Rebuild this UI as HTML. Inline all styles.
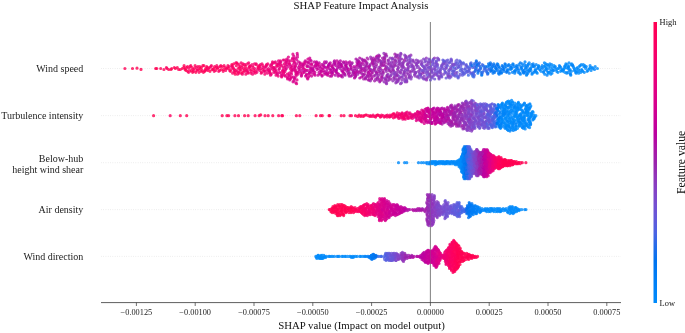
<!DOCTYPE html>
<html><head><meta charset="utf-8"><title>SHAP Feature Impact Analysis</title>
<style>
html,body{margin:0;padding:0;background:#fff;}
body{width:685px;height:333px;overflow:hidden;font-family:"Liberation Serif",serif;}
svg{display:block;font-family:"Liberation Serif",serif;will-change:transform;}
</style></head><body>
<svg width="685" height="333" viewBox="0 0 685 333">
<defs><filter id="bl" x="-5%" y="-5%" width="110%" height="110%"><feGaussianBlur stdDeviation="0.35"/></filter><linearGradient id="cb" x1="0" y1="0" x2="0" y2="1"><stop offset="0%" stop-color="#ff0051"/><stop offset="5%" stop-color="#fe005c"/><stop offset="10%" stop-color="#f90067"/><stop offset="15%" stop-color="#f20072"/><stop offset="20%" stop-color="#e9007c"/><stop offset="25%" stop-color="#e00086"/><stop offset="30%" stop-color="#d5008f"/><stop offset="35%" stop-color="#c80098"/><stop offset="40%" stop-color="#bb00a0"/><stop offset="45%" stop-color="#ab15a7"/><stop offset="50%" stop-color="#9b23ad"/><stop offset="55%" stop-color="#9135ba"/><stop offset="60%" stop-color="#8443c6"/><stop offset="65%" stop-color="#754fd1"/><stop offset="70%" stop-color="#6359da"/><stop offset="75%" stop-color="#4b63e3"/><stop offset="80%" stop-color="#236cea"/><stop offset="85%" stop-color="#0074f0"/><stop offset="90%" stop-color="#007cf5"/><stop offset="95%" stop-color="#0084f9"/><stop offset="100%" stop-color="#008bfb"/></linearGradient></defs>
<rect width="685" height="333" fill="#fff"/>
<text x="361" y="8.7" text-anchor="middle" font-size="10.8" fill="#111">SHAP Feature Impact Analysis</text>
<line x1="101" y1="68.5" x2="621" y2="68.5" stroke="#ccc" stroke-width="0.5" stroke-dasharray="0.7,1.6"/><line x1="101" y1="115.6" x2="621" y2="115.6" stroke="#ccc" stroke-width="0.5" stroke-dasharray="0.7,1.6"/><line x1="101" y1="162.7" x2="621" y2="162.7" stroke="#ccc" stroke-width="0.5" stroke-dasharray="0.7,1.6"/><line x1="101" y1="209.6" x2="621" y2="209.6" stroke="#ccc" stroke-width="0.5" stroke-dasharray="0.7,1.6"/><line x1="101" y1="256.4" x2="621" y2="256.4" stroke="#ccc" stroke-width="0.5" stroke-dasharray="0.7,1.6"/>
<line x1="430.4" y1="22" x2="430.4" y2="302.6" stroke="#777" stroke-width="0.85"/>
<g id="dots" filter="url(#bl)"><g fill="none" stroke-linecap="round" stroke-opacity="0.8" stroke-width="3.20"><path d="M329.1 68.5h0M371.6 79.0h0M361.0 67.5h0M333.3 64.7h0M358.0 62.8h0M438.2 113.6h0M437.3 111.5h0M439.8 110.1h0M443.3 121.3h0M435.6 123.4h0M444.9 122.0h0M440.2 115.0h0M446.4 110.1h0M440.9 119.9h0M444.1 111.5h0M445.1 119.2h0M482.5 171.7h0M483.6 161.7h0M482.2 162.7h0M482.9 165.7h0M482.3 158.7h0M482.7 151.7h0M482.1 174.7h0M483.1 163.7h0M404.3 209.6h0" stroke="#b606a2"/><path d="M365.8 61.9h0M367.9 59.0h0M367.2 58.0h0M373.5 63.8h0M378.2 69.5h0M381.7 62.8h0M352.8 73.2h0M347.1 67.5h0M342.4 77.0h0M352.4 75.2h0M454.6 112.9h0M456.8 111.5h0M452.0 123.4h0M442.6 117.1h0M442.1 124.1h0M481.4 159.7h0M482.0 161.7h0M481.1 155.7h0M481.5 173.7h0M419.6 208.6h0M421.9 209.6h0M419.3 210.6h0M411.3 256.4h0" stroke="#a918a8"/><path d="M270.2 73.2h0M273.1 62.8h0M254.7 68.5h0M283.6 70.4h0M264.3 70.4h0M280.5 64.7h0M276.5 66.6h0M256.9 72.3h0M403.7 116.4h0M407.6 117.8h0M402.8 119.2h0M493.2 158.7h0M444.9 255.4h0M442.7 257.4h0M447.9 257.4h0" stroke="#ef0075"/><path d="M274.6 70.4h0M286.5 60.9h0M272.1 63.8h0M268.2 70.4h0M277.9 65.7h0M402.3 113.6h0M405.0 113.6h0M410.2 115.0h0M409.4 115.7h0M492.3 163.7h0M492.7 164.7h0M492.5 162.7h0M491.9 166.7h0M374.8 210.6h0M373.7 214.6h0M374.8 212.6h0" stroke="#eb0079"/><path d="M262.0 63.8h0M246.8 70.4h0M229.7 70.4h0M240.1 70.4h0M231.0 69.5h0M401.1 115.7h0M394.8 116.4h0M384.8 116.4h0M496.5 163.7h0M363.6 206.6h0M364.5 204.6h0M364.3 207.6h0M364.0 211.6h0M367.8 205.6h0M363.1 209.6h0M450.0 258.4h0M451.1 258.4h0M448.0 256.4h0" stroke="#f80068"/><path d="M384.9 59.0h0M334.8 62.8h0M350.5 65.7h0M374.5 60.0h0M364.5 74.2h0M370.9 70.4h0M372.8 63.8h0M359.7 58.0h0M352.2 62.8h0M364.3 60.0h0M350.9 76.1h0M369.2 79.9h0M368.8 77.0h0M330.6 69.5h0M440.3 110.8h0M445.4 117.8h0M446.0 112.9h0M452.8 117.8h0M448.6 110.1h0M449.9 112.9h0M447.1 119.2h0M448.7 118.5h0M443.5 113.6h0M442.9 116.4h0M447.8 108.7h0M482.8 155.7h0M483.0 172.7h0M408.4 209.6h0M407.6 210.6h0M414.0 256.4h0" stroke="#af11a5"/><path d="M163.9 69.5h0M186.6 67.5h0M168.7 69.5h0M185.5 68.5h0M184.1 65.7h0M191.4 70.4h0M124.9 68.5h0M299.8 115.7h0M350.0 115.7h0M265.0 115.7h0M259.2 115.7h0M508.3 163.7h0M510.0 165.7h0M500.9 166.7h0M501.2 159.7h0M502.2 162.7h0M332.9 206.6h0M335.6 211.6h0M352.1 208.6h0M343.2 205.6h0M351.9 209.6h0M343.7 215.6h0M469.0 254.4h0M456.0 247.4h0M467.3 256.4h0M456.1 261.4h0M455.7 250.4h0M460.7 259.4h0M456.3 243.4h0M459.4 252.4h0M458.6 253.4h0M456.7 256.4h0M458.1 251.4h0M456.1 259.4h0M459.1 258.4h0M454.5 256.4h0" stroke="#ff0056"/><path d="M568.6 67.5h0M527.0 74.2h0M536.6 72.3h0M544.4 62.8h0M525.5 68.5h0M585.7 68.5h0M592.9 68.5h0M543.8 71.3h0M584.3 72.3h0M585.4 67.5h0M555.3 66.6h0M520.1 109.4h0M504.3 122.7h0M508.6 126.2h0M529.7 122.0h0M522.6 120.6h0M515.4 129.7h0M507.5 129.7h0M522.2 124.1h0M524.0 117.1h0M504.7 114.3h0M500.6 127.6h0M530.0 117.1h0M527.5 105.2h0M509.1 113.6h0M531.9 114.3h0M459.3 162.7h0M456.6 163.7h0M437.1 162.7h0M451.2 161.7h0M454.4 161.7h0M444.5 162.7h0M460.5 162.7h0M430.4 162.7h0M461.8 159.7h0M499.7 211.6h0M498.3 208.6h0M479.6 207.6h0M325.6 257.4h0M315.8 256.4h0M319.8 257.4h0M320.3 256.4h0" stroke="#0088fa"/><path d="M424.5 67.5h0M393.2 66.6h0M406.3 60.9h0M412.3 65.7h0M421.7 64.7h0M416.6 63.8h0M407.5 70.4h0M431.4 77.0h0M471.7 103.1h0M471.5 105.9h0M472.9 126.9h0M472.0 115.0h0M468.2 120.6h0M470.7 129.0h0M462.2 119.2h0M469.6 106.6h0M470.0 102.4h0M475.3 152.7h0M475.9 158.7h0M475.2 168.7h0M476.2 156.7h0M475.5 155.7h0M475.2 171.7h0M476.6 149.7h0M434.6 205.6h0M434.5 213.6h0M433.8 203.6h0M432.0 223.6h0M433.6 199.6h0M433.2 214.6h0M435.8 211.6h0M435.3 205.6h0M438.0 203.6h0M438.1 210.6h0" stroke="#883ec2"/><path d="M269.7 71.3h0M259.7 70.4h0M261.2 73.2h0M266.5 64.7h0M404.3 118.5h0M494.3 168.7h0M493.4 155.7h0M493.7 167.7h0M365.7 210.6h0M370.4 206.6h0M369.0 206.6h0M371.3 208.6h0M369.4 208.6h0M447.3 261.4h0M446.2 263.4h0M445.9 260.4h0M445.1 256.4h0M448.5 249.4h0" stroke="#f20071"/><path d="M310.6 71.3h0M320.4 74.2h0M306.6 74.2h0M343.1 72.3h0M303.3 65.7h0M424.4 112.9h0M425.0 117.1h0M427.9 108.0h0M488.1 153.7h0M487.4 160.7h0M485.8 167.7h0M487.7 151.7h0M487.6 157.7h0M487.1 171.7h0M487.3 174.7h0M385.6 211.6h0M387.6 204.6h0M385.4 201.6h0M386.4 209.6h0M386.4 205.6h0M389.5 211.6h0M388.2 208.6h0M387.8 206.6h0M385.4 208.6h0M386.0 204.6h0M387.2 216.6h0M434.4 255.4h0M435.0 254.4h0M434.1 248.4h0M435.5 265.4h0M434.8 247.4h0M433.2 251.4h0" stroke="#d20091"/><path d="M576.2 73.2h0M524.4 64.7h0M505.4 64.7h0M549.2 72.3h0M525.8 67.5h0M542.2 65.7h0M532.3 73.2h0M523.5 65.7h0M522.8 71.3h0M518.2 72.3h0M521.1 115.0h0M499.2 120.6h0M502.2 103.8h0M503.7 115.0h0M500.1 125.5h0M530.4 124.8h0M529.4 119.2h0M499.1 106.6h0M462.9 162.7h0M463.0 149.7h0M463.2 168.7h0M477.5 206.6h0M476.6 213.6h0M367.3 256.4h0" stroke="#0082f8"/><path d="M344.3 69.5h0M350.0 64.7h0M353.9 66.6h0M334.5 60.9h0M340.9 66.6h0M436.3 112.9h0M437.7 121.3h0M438.3 122.0h0M435.0 119.9h0M438.7 108.7h0M441.4 121.3h0M439.2 109.4h0M483.7 175.7h0M482.7 156.7h0M483.9 168.7h0M484.0 169.7h0M405.8 208.6h0M403.4 211.6h0M423.2 255.4h0M422.0 259.4h0M422.6 256.4h0M425.7 253.4h0M421.6 256.4h0M424.2 254.4h0" stroke="#bc009f"/><path d="M492.7 66.6h0M497.3 63.8h0M496.0 68.5h0M520.3 62.8h0M498.6 122.0h0M497.6 110.1h0M498.1 104.5h0M463.7 164.7h0M463.9 173.7h0M470.6 204.6h0M469.1 213.6h0M468.3 207.6h0M469.4 203.6h0M469.8 210.6h0M373.0 254.4h0M374.2 258.4h0" stroke="#0078f3"/><path d="M507.9 70.4h0M498.0 64.7h0M501.3 73.2h0M530.5 68.5h0M556.1 69.5h0M501.5 116.4h0M526.2 112.2h0M462.9 155.7h0M462.8 153.7h0M476.2 212.6h0M475.7 213.6h0M472.9 205.6h0M473.3 214.6h0M471.3 211.6h0" stroke="#007ff6"/><path d="M435.6 66.6h0M429.3 74.2h0M428.6 62.8h0M442.2 66.6h0M440.9 75.2h0M430.5 66.6h0M439.6 72.3h0M428.7 63.8h0M452.3 63.8h0M440.2 69.5h0M416.0 72.3h0M427.7 71.3h0M478.3 104.5h0M475.7 120.6h0M483.2 127.6h0M476.5 113.6h0M470.1 119.9h0M477.1 112.2h0M470.5 109.4h0M477.7 108.7h0M473.9 167.7h0M474.2 155.7h0M473.3 154.7h0M473.7 157.7h0M475.1 164.7h0M441.3 209.6h0M441.6 210.6h0M438.4 213.6h0M439.3 205.6h0M395.8 255.4h0" stroke="#7d49cb"/><path d="M244.7 71.3h0M241.1 62.8h0M216.1 67.5h0M234.0 71.3h0M387.4 115.0h0M494.4 156.7h0M366.2 211.6h0M446.5 262.4h0M447.8 255.4h0M449.6 263.4h0M448.6 264.4h0M448.3 248.4h0M447.5 249.4h0" stroke="#f5006c"/><path d="M397.1 75.2h0M381.0 61.9h0M394.4 77.0h0M396.6 56.1h0M408.1 67.5h0M406.2 57.1h0M409.2 56.1h0M393.1 59.0h0M375.5 71.3h0M391.9 66.6h0M370.6 57.1h0M402.4 65.7h0M381.4 64.7h0M455.5 112.2h0M450.5 105.9h0M456.0 114.3h0M460.0 110.8h0M460.1 116.4h0M459.8 112.9h0M457.6 105.2h0M458.1 115.7h0M461.0 119.9h0M460.5 121.3h0M478.0 175.7h0M478.3 151.7h0M477.3 172.7h0M478.1 154.7h0M478.5 165.7h0M428.3 211.6h0M427.3 194.6h0M428.6 200.6h0M430.0 215.6h0M404.3 258.4h0M407.0 258.4h0M405.4 257.4h0M404.8 253.4h0" stroke="#972bb2"/><path d="M174.3 67.5h0M190.0 66.6h0M238.1 68.5h0M160.7 68.5h0M178.6 69.5h0M329.6 115.7h0M282.6 115.7h0M228.6 115.7h0M320.5 115.7h0M501.7 164.7h0M499.7 164.7h0M500.7 167.7h0M356.5 209.6h0M454.5 270.4h0M452.8 266.4h0M454.4 257.4h0M456.2 269.4h0M455.4 245.4h0M454.2 244.4h0M453.7 271.4h0M453.4 249.4h0M453.4 256.4h0M454.6 260.4h0" stroke="#ff005a"/><path d="M571.4 71.3h0M595.2 66.6h0M592.3 67.5h0M565.2 65.7h0M580.8 72.3h0M544.7 74.2h0M576.8 68.5h0M575.6 72.3h0M580.1 65.7h0M587.1 71.3h0M582.1 70.4h0M546.1 67.5h0M567.5 72.3h0M569.8 73.2h0M557.6 68.5h0M509.6 119.2h0M503.6 110.1h0M509.9 105.9h0M508.4 125.5h0M509.4 104.5h0M504.7 108.7h0M506.0 106.6h0M505.5 112.9h0M526.9 124.8h0M516.4 108.7h0M524.5 103.8h0M509.7 119.9h0M522.3 110.1h0M528.6 123.4h0M534.2 118.5h0M516.4 122.7h0M508.5 101.0h0M511.4 116.4h0M510.5 117.8h0M506.6 117.8h0M514.0 117.1h0M518.3 115.7h0M528.3 114.3h0M524.7 122.7h0M528.2 126.9h0M511.6 100.3h0M523.5 104.5h0M511.5 129.7h0M511.0 115.7h0M512.3 101.7h0M514.5 103.8h0M504.3 119.2h0M517.7 110.1h0M510.3 111.5h0M529.1 113.6h0M513.4 119.2h0M507.8 122.0h0M529.2 108.0h0M516.5 119.9h0M503.9 109.4h0M514.8 103.1h0M505.3 123.4h0M517.3 110.8h0M520.9 113.6h0M521.7 117.8h0M525.4 105.2h0M513.1 110.8h0M508.2 124.1h0M512.8 126.9h0M533.1 112.2h0M459.5 159.7h0M442.4 163.7h0M427.1 163.7h0M421.4 162.7h0M446.6 162.7h0M430.0 163.7h0M460.8 165.7h0M437.5 163.7h0M434.1 162.7h0M428.7 162.7h0M460.7 167.7h0M441.3 161.7h0M441.1 161.7h0M427.7 162.7h0M428.4 163.7h0M511.1 208.6h0M493.3 210.6h0M503.2 208.6h0M508.2 210.6h0M506.9 209.6h0M510.4 209.6h0M512.0 212.6h0M516.6 211.6h0M515.6 208.6h0M506.1 208.6h0M509.9 213.6h0M516.3 209.6h0M508.6 211.6h0M319.0 257.4h0M355.6 256.4h0M328.9 256.4h0M332.7 256.4h0M322.9 258.4h0M320.6 258.4h0M317.9 255.4h0" stroke="#008bfb"/><path d="M300.8 73.2h0M295.3 66.6h0M294.2 61.9h0M292.2 70.4h0M421.8 110.1h0M420.5 120.6h0M418.3 113.6h0M487.9 156.7h0M489.1 167.7h0M489.0 168.7h0M488.6 164.7h0M380.8 210.6h0M435.6 248.4h0M436.6 266.4h0" stroke="#db008a"/><path d="M282.7 70.4h0M285.0 71.3h0M271.5 64.7h0M291.7 77.0h0M408.9 113.6h0M491.0 165.7h0M491.0 154.7h0M377.5 206.6h0M440.5 258.4h0" stroke="#e8007e"/><path d="M451.1 59.0h0M447.9 75.2h0M447.0 64.7h0M447.1 62.8h0M430.4 79.9h0M437.2 75.2h0M459.2 76.1h0M487.5 118.5h0M473.3 101.0h0M490.1 110.1h0M483.6 117.1h0M487.2 115.0h0M486.4 126.9h0M488.5 119.2h0M476.3 112.9h0M476.1 103.8h0M479.4 118.5h0M491.0 108.0h0M485.7 109.4h0M481.0 105.2h0M489.4 105.9h0M479.7 121.3h0M479.9 127.6h0M472.3 165.7h0M472.6 167.7h0M443.9 207.6h0M446.3 212.6h0M448.1 202.6h0M447.6 210.6h0M451.9 212.6h0M448.5 212.6h0M449.5 209.6h0M446.8 203.6h0M446.5 214.6h0M449.1 211.6h0M393.9 258.4h0M391.9 256.4h0" stroke="#6f52d4"/><path d="M412.6 67.5h0M440.7 73.2h0M408.9 78.0h0M401.6 82.8h0M402.2 77.0h0M410.3 59.0h0M424.1 72.3h0M417.7 62.8h0M420.0 70.4h0M420.2 69.5h0M430.0 76.1h0M428.4 61.9h0M468.5 126.9h0M472.4 110.1h0M472.3 110.8h0M470.9 120.6h0M473.9 122.0h0M478.8 107.3h0M474.6 159.7h0M474.0 163.7h0M474.9 172.7h0M475.3 158.7h0M436.5 214.6h0M437.7 209.6h0M434.2 207.6h0M440.1 208.6h0M439.9 212.6h0M397.8 255.4h0" stroke="#8344c7"/><path d="M471.1 62.8h0M466.9 71.3h0M454.5 67.5h0M461.3 68.5h0M473.0 73.2h0M464.5 73.2h0M467.8 165.7h0M469.1 149.7h0M468.4 178.7h0M463.5 209.6h0M462.1 210.6h0M461.9 212.6h0M458.7 215.6h0" stroke="#4b63e3"/><path d="M461.0 62.8h0M442.9 60.0h0M469.5 68.5h0M485.5 124.1h0M490.2 110.8h0M487.4 126.2h0M480.7 112.2h0M493.6 119.2h0M487.9 113.6h0M485.9 121.3h0M470.6 160.7h0M470.2 166.7h0M470.1 160.7h0M470.5 169.7h0M469.9 168.7h0M470.1 152.7h0M470.9 161.7h0M471.0 149.7h0M469.9 174.7h0M452.9 211.6h0M456.0 213.6h0M454.2 214.6h0M451.7 213.6h0M452.8 209.6h0M458.3 214.6h0M460.1 208.6h0M389.4 254.4h0M390.3 256.4h0M389.9 257.4h0M388.8 255.4h0M388.1 256.4h0" stroke="#5f5bdc"/><path d="M485.5 66.6h0M477.9 73.2h0M480.9 67.5h0M480.1 66.6h0M497.2 119.9h0M496.7 123.4h0M465.4 174.7h0M464.8 160.7h0M465.2 175.7h0M465.0 162.7h0M468.1 211.6h0M467.6 208.6h0M374.7 255.4h0" stroke="#0072ee"/><path d="M289.6 76.1h0M288.7 62.8h0M279.5 72.3h0M288.7 61.9h0M285.7 69.5h0M296.0 74.2h0M286.7 59.0h0M292.0 69.5h0M419.1 112.9h0M491.4 156.7h0M377.7 205.6h0M375.2 204.6h0M379.3 215.6h0M438.9 251.4h0" stroke="#e40082"/><path d="M509.3 73.2h0M516.4 65.7h0M510.4 67.5h0M509.9 68.5h0M499.5 67.5h0M524.8 72.3h0M498.3 105.2h0M463.5 166.7h0M464.5 172.7h0M463.3 148.7h0M473.1 210.6h0M469.5 204.6h0M474.0 206.6h0M470.0 216.6h0M369.1 257.4h0M370.1 257.4h0" stroke="#007cf5"/><path d="M332.5 67.5h0M431.6 110.1h0M431.1 123.4h0M436.8 122.7h0M431.4 114.3h0M429.8 110.1h0M435.5 112.2h0M484.5 172.7h0M484.9 149.7h0M401.8 212.6h0M398.2 206.6h0M422.8 258.4h0M425.6 258.4h0M426.5 252.4h0M424.8 261.4h0" stroke="#c2009c"/><path d="M288.4 57.1h0M296.3 73.2h0M286.9 64.7h0M296.2 75.2h0M296.1 76.1h0M422.9 117.8h0M419.7 117.1h0M490.6 157.7h0M489.3 169.7h0M489.6 165.7h0M379.1 204.6h0M380.3 212.6h0M377.2 210.6h0M378.8 212.6h0M379.5 218.6h0M437.4 251.4h0M438.5 262.4h0M437.9 252.4h0M438.4 258.4h0M439.5 252.4h0M436.7 260.4h0" stroke="#e00086"/><path d="M439.4 77.0h0M448.9 74.2h0M455.2 76.1h0M458.2 78.0h0M467.4 67.5h0M489.5 112.9h0M485.3 106.6h0M476.1 108.7h0M485.6 122.7h0M491.5 109.4h0M488.7 112.2h0M491.8 125.5h0M471.9 151.7h0M471.6 175.7h0M470.6 165.7h0M471.4 152.7h0M471.0 166.7h0M471.5 174.7h0M471.3 172.7h0M469.7 161.7h0M445.3 200.6h0M454.3 213.6h0M453.0 207.6h0M453.3 208.6h0M389.7 253.4h0M389.2 254.4h0M392.3 258.4h0M390.9 255.4h0M393.1 254.4h0" stroke="#6857d8"/><path d="M528.2 64.7h0M545.5 69.5h0M567.8 68.5h0M535.7 70.4h0M541.3 67.5h0M506.5 110.8h0M502.6 114.3h0M516.0 111.5h0M501.6 118.5h0M515.5 126.2h0M510.8 105.2h0M519.8 115.7h0M499.7 117.1h0M520.2 104.5h0M512.0 105.2h0M518.7 122.0h0M461.9 158.7h0M462.6 161.7h0M462.2 167.7h0M480.2 209.6h0M478.1 208.6h0M478.3 208.6h0M365.6 256.4h0" stroke="#0085f9"/><path d="M486.2 69.5h0M478.9 70.4h0M474.9 65.7h0M481.9 74.2h0M487.6 74.2h0M493.1 112.2h0M467.4 157.7h0M468.3 160.7h0M467.5 149.7h0M467.3 175.7h0M466.7 169.7h0M467.0 161.7h0M467.0 176.7h0M467.1 174.7h0M467.5 147.7h0M468.1 153.7h0M466.8 162.7h0M461.7 206.6h0M381.0 256.4h0" stroke="#3e67e6"/><path d="M395.2 60.0h0M392.3 58.0h0M413.5 66.6h0M424.0 69.5h0M412.1 70.4h0M407.3 64.7h0M401.3 77.0h0M400.3 59.0h0M398.8 60.0h0M411.5 77.0h0M414.2 69.5h0M466.7 110.1h0M465.8 129.0h0M473.5 125.5h0M460.4 123.4h0M474.9 103.1h0M467.4 103.8h0M464.9 122.0h0M468.8 109.4h0M476.5 168.7h0M477.4 150.7h0M478.2 166.7h0M476.3 170.7h0M475.7 151.7h0M432.3 205.6h0M430.2 216.6h0M431.2 215.6h0M430.8 195.6h0M429.7 197.6h0M434.1 206.6h0M432.7 209.6h0M401.0 253.4h0M401.5 255.4h0M402.0 259.4h0" stroke="#8e38bd"/><path d="M225.0 67.5h0M227.0 67.5h0M190.8 65.7h0M232.3 65.7h0M243.6 68.5h0M199.8 66.6h0M227.9 65.7h0M387.0 117.1h0M170.2 115.7h0M499.8 165.7h0M498.3 165.7h0M500.0 161.7h0M500.2 165.7h0M499.2 167.7h0M357.0 211.6h0M451.5 261.4h0M452.5 249.4h0M453.9 267.4h0M453.5 245.4h0M453.2 244.4h0M453.7 240.4h0M456.4 254.4h0M452.7 250.4h0M454.9 254.4h0M451.8 251.4h0" stroke="#fd005f"/><path d="M225.7 70.4h0M242.1 65.7h0M211.4 65.7h0M238.9 73.2h0M245.0 69.5h0M235.9 62.8h0M250.8 73.2h0M240.0 66.6h0M220.8 65.7h0M202.1 70.4h0M243.9 70.4h0M396.0 115.0h0M496.4 162.7h0M496.7 160.7h0M496.6 164.7h0M497.7 159.7h0M362.1 211.6h0M358.6 211.6h0M361.5 212.6h0M359.4 207.6h0M450.8 257.4h0M453.0 264.4h0M451.4 268.4h0M451.6 267.4h0M450.3 250.4h0M449.0 263.4h0" stroke="#fb0064"/><path d="M299.6 71.3h0M308.1 62.8h0M321.4 71.3h0M309.8 58.0h0M311.6 76.1h0M315.7 64.7h0M423.5 115.7h0M432.9 112.2h0M425.6 117.8h0M427.2 110.1h0M430.9 118.5h0M487.0 160.7h0M486.4 163.7h0M487.2 170.7h0M486.4 166.7h0M485.5 158.7h0M395.7 207.6h0M394.4 206.6h0M390.6 210.6h0M390.4 205.6h0M390.0 203.6h0M393.7 207.6h0M389.4 213.6h0M391.7 209.6h0M389.1 211.6h0M391.5 207.6h0M394.2 204.6h0M393.7 213.6h0M386.8 200.6h0M391.9 205.6h0M399.3 209.6h0M434.7 264.4h0M431.5 259.4h0M429.5 251.4h0M433.0 258.4h0M430.0 257.4h0M432.7 252.4h0M433.3 258.4h0M431.8 253.4h0" stroke="#cd0095"/><path d="M311.0 67.5h0M318.2 68.5h0M319.7 66.6h0M330.0 76.1h0M319.0 72.3h0M313.2 69.5h0M327.7 75.2h0M333.8 69.5h0M320.1 70.4h0M319.5 73.2h0M432.0 122.7h0M430.2 115.0h0M429.4 112.9h0M486.5 170.7h0M485.1 152.7h0M486.1 173.7h0M485.9 158.7h0M485.8 150.7h0M486.3 154.7h0M484.8 162.7h0M486.0 157.7h0M484.9 169.7h0M392.2 212.6h0M396.5 206.6h0M400.8 212.6h0M401.5 209.6h0M397.8 205.6h0M395.2 212.6h0M428.1 263.4h0M428.8 255.4h0M430.9 259.4h0M428.0 252.4h0M427.4 253.4h0" stroke="#c70098"/><path d="M451.3 60.0h0M434.3 65.7h0M433.9 63.8h0M449.8 69.5h0M430.9 67.5h0M446.7 67.5h0M410.0 61.9h0M481.7 104.5h0M480.1 106.6h0M473.8 116.4h0M484.9 108.7h0M476.9 108.0h0M483.9 112.9h0M472.4 161.7h0M471.3 176.7h0M473.2 172.7h0M473.1 168.7h0M474.2 166.7h0M472.1 164.7h0M473.8 165.7h0M443.2 205.6h0M445.9 202.6h0M446.3 215.6h0M444.0 204.6h0M442.6 213.6h0M394.8 257.4h0M394.3 259.4h0M396.3 253.4h0" stroke="#764ed0"/><path d="M323.2 65.7h0M290.7 66.6h0M293.0 81.8h0M296.8 60.0h0M294.1 59.0h0M297.5 57.1h0M297.4 55.2h0M293.5 69.5h0M307.8 79.0h0M300.2 63.8h0M301.0 66.6h0M426.3 108.7h0M424.1 119.9h0M419.8 112.2h0M424.3 123.4h0M424.8 121.3h0M383.1 201.6h0M384.5 198.6h0M382.8 205.6h0M384.6 204.6h0M435.8 252.4h0M434.3 250.4h0M435.9 266.4h0M437.3 263.4h0M433.6 254.4h0M435.7 251.4h0" stroke="#d7008d"/><path d="M489.9 64.7h0M493.0 73.2h0M492.2 69.5h0M494.2 65.7h0M497.5 108.0h0M464.6 149.7h0M464.2 155.7h0M469.3 215.6h0M372.8 256.4h0" stroke="#0075f1"/><path d="M484.8 68.5h0M480.6 68.5h0M486.5 71.3h0M466.1 162.7h0M465.8 154.7h0M466.6 148.7h0M466.1 150.7h0M466.5 160.7h0M464.7 210.6h0M466.0 208.6h0M377.0 256.4h0" stroke="#2d6be9"/><path d="M356.7 69.5h0M383.3 60.0h0M358.7 67.5h0M380.1 66.6h0M353.6 72.3h0M345.1 75.2h0M386.4 66.6h0M361.4 73.2h0M388.4 60.0h0M384.8 60.9h0M377.9 61.9h0M369.0 67.5h0M386.1 82.8h0M385.8 79.9h0M364.8 67.5h0M367.5 75.2h0M372.3 72.3h0M382.0 79.9h0M461.7 108.7h0M459.2 113.6h0M458.9 104.5h0M457.2 106.6h0M454.1 110.1h0M481.3 169.7h0M480.7 158.7h0M426.1 208.6h0M410.6 257.4h0" stroke="#a21eaa"/><path d="M380.9 63.8h0M397.5 69.5h0M367.0 62.8h0M369.8 65.7h0M366.4 65.7h0M378.9 71.3h0M398.2 55.2h0M379.7 81.8h0M453.4 118.5h0M458.7 126.2h0M453.2 108.7h0M451.1 111.5h0M450.0 124.1h0M453.4 119.2h0M452.3 109.4h0M455.4 108.0h0M458.0 125.5h0M478.9 171.7h0M480.1 152.7h0M479.5 170.7h0M479.5 160.7h0M427.5 206.6h0M427.6 198.6h0M426.9 213.6h0M427.2 219.6h0M426.7 210.6h0M407.3 256.4h0M408.9 255.4h0M407.9 255.4h0" stroke="#9b23ad"/><path d="M132.5 68.5h0M195.8 72.3h0M213.0 69.5h0M210.0 71.3h0M175.4 68.5h0M201.4 67.5h0M153.6 115.7h0M505.7 162.7h0M509.0 163.7h0M511.6 160.7h0M512.2 164.7h0M511.3 161.7h0M506.7 162.7h0M510.7 164.7h0M509.3 160.7h0M505.2 159.7h0M513.7 161.7h0M515.3 162.7h0M518.1 163.7h0M505.7 165.7h0M514.1 162.7h0M508.9 164.7h0M504.7 163.7h0M337.9 212.6h0M346.5 211.6h0M335.0 206.6h0M341.4 211.6h0M338.8 208.6h0M335.4 209.6h0M341.6 207.6h0M347.1 208.6h0M329.2 209.6h0M332.1 212.6h0M342.1 204.6h0M338.5 211.6h0M348.0 207.6h0M336.3 208.6h0M339.4 206.6h0M346.0 209.6h0M336.9 210.6h0M345.7 206.6h0M459.5 249.4h0M457.9 258.4h0M477.6 256.4h0M462.7 258.4h0M467.8 254.4h0M467.5 257.4h0M470.2 257.4h0M460.2 261.4h0M464.0 260.4h0M472.7 255.4h0M456.6 255.4h0M457.2 268.4h0M462.2 258.4h0M460.9 260.4h0M457.8 250.4h0M460.4 251.4h0M468.6 259.4h0M469.6 258.4h0M470.0 255.4h0M462.3 252.4h0" stroke="#ff0051"/><path d="M478.6 63.8h0M477.0 64.7h0M490.7 71.3h0M475.8 62.8h0M481.3 72.3h0M483.3 65.7h0M496.0 123.4h0M496.6 112.2h0M466.0 171.7h0M466.5 153.7h0M465.4 169.7h0M465.9 146.7h0M466.7 213.6h0" stroke="#0e6eec"/><path d="M399.6 60.9h0M399.3 63.8h0M387.5 68.5h0M390.1 58.0h0M391.8 73.2h0M410.9 55.2h0M391.3 72.3h0M387.4 80.8h0M403.4 66.6h0M398.6 71.3h0M392.8 80.8h0M401.5 66.6h0M403.9 73.2h0M394.2 79.9h0M463.8 109.4h0M468.9 121.3h0M457.8 119.2h0M455.8 120.6h0M466.3 124.8h0M459.0 109.4h0M466.4 105.2h0M477.1 167.7h0M476.8 150.7h0M477.2 173.7h0M478.8 164.7h0M477.4 169.7h0M477.5 153.7h0M476.9 168.7h0M477.5 159.7h0M429.6 207.6h0M430.4 214.6h0M429.7 208.6h0M428.1 205.6h0M433.8 211.6h0M428.8 224.6h0M431.2 208.6h0M430.2 202.6h0M429.2 201.6h0M428.9 225.6h0M431.5 225.6h0M429.5 203.6h0M427.6 222.6h0" stroke="#9232b8"/><path d="M488.2 112.9h0M494.4 104.5h0M486.9 110.1h0M493.9 107.3h0M491.8 111.5h0M493.2 124.1h0M469.0 151.7h0M469.2 161.7h0M468.9 150.7h0M468.3 164.7h0M469.3 148.7h0M469.8 147.7h0M469.5 163.7h0M457.5 212.6h0M459.9 209.6h0M460.5 208.6h0M458.5 204.6h0M456.6 205.6h0M389.0 260.4h0M385.7 256.4h0M384.5 258.4h0M385.2 257.4h0M384.7 259.4h0" stroke="#565fe0"/><path d="M315.0 75.2h0M305.6 76.1h0M310.0 63.8h0M312.3 73.2h0M310.8 68.5h0M311.9 63.8h0M294.4 79.0h0M313.5 71.3h0M435.2 124.1h0M430.1 119.9h0M430.6 109.4h0M424.6 118.5h0M425.0 109.4h0M423.9 112.2h0M428.4 110.8h0M487.8 166.7h0M487.7 150.7h0M388.3 210.6h0M388.7 201.6h0M388.8 216.6h0M387.6 203.6h0M385.8 203.6h0M393.0 211.6h0M388.5 212.6h0M393.1 213.6h0M432.3 261.4h0M430.2 254.4h0M430.3 252.4h0M432.9 256.4h0M432.0 251.4h0M432.2 254.4h0" stroke="#cd0095"/><path d="M520.8 66.6h0M524.2 70.4h0M515.9 67.5h0M529.5 71.3h0M498.5 73.2h0M532.8 66.6h0M498.0 124.1h0M463.4 156.7h0M473.8 208.6h0M368.7 256.4h0" stroke="#007cf5"/><path d="M376.0 66.6h0M377.7 77.0h0M387.1 75.2h0M390.9 65.7h0M401.0 54.2h0M378.8 55.2h0M406.8 81.8h0M397.3 81.8h0M390.6 71.3h0M385.7 69.5h0M379.0 67.5h0M398.4 67.5h0M454.9 105.9h0M459.3 122.0h0M461.9 117.8h0M465.0 118.5h0M456.3 122.7h0M460.5 108.0h0M459.0 115.0h0M457.1 119.9h0M466.1 124.1h0M457.5 110.8h0M479.0 157.7h0M477.8 158.7h0M478.1 174.7h0M478.7 152.7h0M478.6 153.7h0M479.4 168.7h0M477.8 164.7h0M430.9 217.6h0M429.2 205.6h0M402.7 257.4h0" stroke="#972bb2"/><path d="M462.0 71.3h0M458.5 67.5h0M473.6 72.3h0M457.8 77.0h0M495.2 114.3h0M489.7 115.7h0M490.9 108.7h0M493.8 124.8h0M470.0 175.7h0M469.1 171.7h0M469.6 164.7h0M469.6 153.7h0M468.7 168.7h0M457.1 202.6h0M457.0 213.6h0M457.8 206.6h0M459.1 212.6h0M457.6 216.6h0M386.7 254.4h0M386.3 259.4h0" stroke="#565fe0"/><path d="M204.7 71.3h0M182.3 68.5h0M192.6 72.3h0M137.0 68.2h0M141.0 69.4h0M357.7 116.4h0M186.7 115.7h0M272.8 115.7h0M226.9 115.7h0M222.2 115.7h0M260.7 114.9h0M244.6 115.7h0M322.3 115.7h0M507.5 165.7h0M503.6 165.7h0M506.3 161.7h0M504.9 164.7h0M514.6 161.7h0M508.5 162.7h0M503.1 162.7h0M507.3 164.7h0M506.5 160.7h0M508.0 160.7h0M509.7 161.7h0M511.9 162.7h0M340.1 205.6h0M349.9 210.6h0M342.6 213.6h0M340.8 212.6h0M330.0 209.6h0M340.7 204.6h0M349.5 210.6h0M339.7 204.6h0M337.4 215.6h0M332.4 208.6h0M339.3 210.6h0M336.1 206.6h0M331.3 210.6h0M333.7 211.6h0M342.9 207.6h0M340.5 213.6h0M343.4 208.6h0M344.4 205.6h0M350.4 208.6h0M348.6 209.6h0M338.1 209.6h0M344.6 210.6h0M461.1 255.4h0M459.3 253.4h0M464.3 259.4h0M461.5 251.4h0M466.0 259.4h0M458.0 257.4h0M462.1 259.4h0M458.5 266.4h0M463.1 259.4h0M470.7 255.4h0M471.4 257.4h0M461.9 257.4h0M465.1 258.4h0M458.8 248.4h0M455.4 262.4h0M457.7 261.4h0M463.5 260.4h0M460.3 248.4h0M467.0 257.4h0M476.3 257.4h0M457.9 254.4h0M466.4 258.4h0M475.0 257.4h0" stroke="#ff0051"/><path d="M475.7 68.5h0M494.7 72.3h0M490.4 62.8h0M496.2 108.7h0M495.9 126.2h0M465.5 178.7h0M465.2 166.7h0M467.0 212.6h0M373.8 256.4h0" stroke="#0072ee"/><path d="M410.4 75.2h0M401.9 69.5h0M418.2 60.9h0M420.5 74.2h0M424.3 76.1h0M417.9 76.1h0M411.0 79.0h0M416.9 65.7h0M472.7 113.6h0M474.3 117.8h0M468.4 113.6h0M475.5 170.7h0M475.5 167.7h0M476.4 167.7h0M434.7 207.6h0M434.0 197.6h0M433.4 221.6h0M431.8 214.6h0M433.9 220.6h0M431.5 213.6h0M433.7 202.6h0M436.2 204.6h0M437.0 201.6h0" stroke="#883ec2"/><path d="M223.2 71.3h0M199.0 72.3h0M187.7 71.3h0M239.5 67.5h0M369.9 116.4h0M374.3 116.4h0M498.9 156.7h0M497.8 163.7h0M498.7 158.7h0M499.9 164.7h0M498.5 158.7h0M497.9 166.7h0M499.3 162.7h0M357.8 208.6h0M355.0 207.6h0M358.1 210.6h0M357.5 208.6h0M451.2 262.4h0M453.5 257.4h0M452.6 247.4h0M454.3 261.4h0M453.0 272.4h0M454.8 271.4h0M454.2 269.4h0M453.1 253.4h0M452.8 258.4h0M453.2 260.4h0" stroke="#fd005f"/><path d="M423.3 66.6h0M427.2 68.5h0M423.6 59.0h0M437.5 58.0h0M448.3 76.1h0M407.0 58.0h0M431.2 69.5h0M422.2 62.8h0M412.6 60.9h0M433.5 68.5h0M467.6 129.7h0M463.4 108.7h0M465.2 115.0h0M473.4 128.3h0M466.9 104.5h0M476.0 121.3h0M470.8 122.7h0M474.0 118.5h0M472.8 104.5h0M473.7 161.7h0M474.4 151.7h0M475.6 166.7h0M474.9 169.7h0M474.1 160.7h0M437.4 204.6h0M438.2 212.6h0M438.9 211.6h0M435.5 213.6h0M434.3 195.6h0M439.6 213.6h0M437.5 208.6h0M396.6 257.4h0M399.0 256.4h0" stroke="#8344c7"/><path d="M470.8 64.7h0M474.3 75.2h0M459.7 60.9h0M467.6 66.6h0M463.3 62.8h0M494.6 105.2h0M494.3 113.6h0M488.8 121.3h0M492.6 119.9h0M494.0 110.1h0M493.3 125.5h0M468.5 163.7h0M468.1 174.7h0M468.8 176.7h0M469.4 156.7h0M468.6 175.7h0M468.0 146.7h0M467.7 163.7h0M460.2 207.6h0M458.8 203.6h0M385.6 253.4h0" stroke="#4b63e3"/><path d="M438.1 67.5h0M463.0 72.3h0M447.4 65.7h0M462.2 69.5h0M446.1 78.0h0M453.4 75.2h0M452.9 73.2h0M484.7 126.9h0M482.2 116.4h0M484.3 126.2h0M487.1 107.3h0M485.8 117.1h0M479.0 112.9h0M483.8 106.6h0M490.8 113.6h0M470.8 150.7h0M470.5 170.7h0M471.8 157.7h0M471.7 153.7h0M456.4 208.6h0M449.9 212.6h0M450.4 207.6h0M455.4 214.6h0M451.5 208.6h0M454.6 207.6h0M391.0 255.4h0M388.6 257.4h0M390.0 258.4h0" stroke="#6857d8"/><path d="M482.3 64.7h0M483.9 70.4h0M495.3 121.3h0M495.4 126.9h0M491.2 126.2h0M469.2 157.7h0M467.8 169.7h0M466.3 147.7h0M467.1 154.7h0M467.3 155.7h0M467.2 159.7h0M461.3 211.6h0" stroke="#3e67e6"/><path d="M384.7 65.7h0M388.6 77.0h0M384.6 57.1h0M370.1 64.7h0M382.1 76.1h0M395.4 57.1h0M385.5 79.0h0M397.6 79.9h0M375.7 79.0h0M402.9 63.8h0M381.1 74.2h0M457.2 110.1h0M449.5 110.8h0M466.8 115.7h0M453.1 114.3h0M455.2 107.3h0M455.7 116.4h0M455.0 123.4h0M462.9 110.8h0M479.3 167.7h0M479.6 172.7h0M478.6 163.7h0M479.2 162.7h0M479.1 169.7h0M479.0 173.7h0M478.4 160.7h0M427.4 207.6h0M427.0 220.6h0" stroke="#9b23ad"/><path d="M297.2 53.3h0M297.0 72.3h0M303.6 68.5h0M302.5 73.2h0M289.9 64.7h0M299.8 68.5h0M303.8 62.8h0M413.5 115.7h0M422.4 117.1h0M417.7 111.5h0M488.6 152.7h0M489.3 154.7h0M381.7 200.6h0M380.4 208.6h0M381.4 219.6h0M382.6 202.6h0M436.3 255.4h0M436.1 260.4h0M437.3 255.4h0M435.9 259.4h0M435.2 256.4h0" stroke="#db008a"/><path d="M216.8 65.7h0M237.6 74.2h0M239.0 64.7h0M219.7 70.4h0M249.4 66.6h0M238.5 72.3h0M384.2 117.1h0M380.4 117.1h0M365.6 115.0h0M383.2 115.7h0M497.6 157.7h0M497.4 161.7h0M497.4 160.7h0M497.1 159.7h0M360.6 206.6h0M452.4 259.4h0M450.4 262.4h0M451.0 266.4h0M450.5 259.4h0M452.0 242.4h0M451.4 269.4h0M451.6 257.4h0" stroke="#fb0064"/><path d="M432.1 64.7h0M443.4 63.8h0M448.6 70.4h0M449.6 78.0h0M441.3 76.1h0M450.9 77.0h0M422.0 70.4h0M432.6 62.8h0M457.1 72.3h0M445.6 66.6h0M455.0 64.7h0M477.4 122.0h0M482.9 108.0h0M485.2 108.0h0M475.2 123.4h0M483.4 115.0h0M486.2 108.7h0M484.4 128.3h0M482.1 109.4h0M481.7 112.2h0M472.0 153.7h0M472.7 166.7h0M472.2 163.7h0M472.3 158.7h0M472.4 159.7h0M472.1 168.7h0M472.0 162.7h0M443.8 210.6h0M445.4 213.6h0M442.8 214.6h0M444.5 206.6h0M447.9 209.6h0M448.3 205.6h0M448.8 206.6h0M394.7 255.4h0M391.6 253.4h0M393.4 259.4h0M391.3 254.4h0" stroke="#6f52d4"/><path d="M474.0 63.8h0M479.4 62.8h0M466.3 158.7h0M466.9 146.7h0M466.2 166.7h0M465.7 209.6h0" stroke="#2d6be9"/><path d="M301.4 76.1h0M282.3 75.2h0M294.8 78.0h0M311.5 64.7h0M295.8 82.8h0M420.8 118.5h0M422.1 122.0h0M421.4 116.4h0M418.8 119.9h0M488.3 172.7h0M488.0 163.7h0M487.5 158.7h0M488.4 154.7h0M383.5 210.6h0M380.7 213.6h0M383.9 207.6h0M384.4 203.6h0M385.3 220.6h0M383.5 201.6h0M382.4 210.6h0" stroke="#d7008d"/><path d="M271.8 66.6h0M250.0 65.7h0M257.5 69.5h0M404.6 116.4h0M401.7 117.1h0M495.0 167.7h0M494.6 161.7h0M495.6 162.7h0M495.8 165.7h0M367.2 206.6h0M366.5 213.6h0M364.8 215.6h0M365.3 209.6h0M447.7 259.4h0M449.1 258.4h0M449.9 244.4h0M448.2 252.4h0M447.6 254.4h0" stroke="#f5006c"/><path d="M418.5 71.3h0M413.8 61.9h0M414.8 74.2h0M426.8 78.0h0M400.9 73.2h0M408.7 62.8h0M413.3 71.3h0M405.1 81.8h0M391.6 61.9h0M393.9 71.3h0M408.0 68.5h0M402.6 64.7h0M401.1 70.4h0M465.7 113.6h0M468.0 117.8h0M460.9 107.3h0M466.6 102.4h0M471.3 115.7h0M467.2 126.2h0M477.9 166.7h0M475.4 162.7h0M476.7 162.7h0M476.9 163.7h0M475.9 165.7h0M431.7 206.6h0M430.3 218.6h0M432.7 199.6h0M435.0 215.6h0M432.9 212.6h0M432.6 224.6h0M433.2 204.6h0M432.5 197.6h0M433.0 219.6h0" stroke="#8e38bd"/><path d="M203.9 65.7h0M205.0 70.4h0M183.9 67.5h0M231.8 64.7h0M207.8 70.4h0M180.3 69.5h0M156.8 68.5h0M180.3 115.7h0M281.8 115.7h0M234.9 115.7h0M341.2 115.7h0M268.2 115.7h0M503.3 160.7h0M510.3 162.7h0M342.2 209.6h0M336.1 211.6h0M352.6 207.6h0M341.8 209.6h0M455.4 267.4h0M465.3 257.4h0M457.0 252.4h0M455.8 264.4h0M457.1 257.4h0M454.1 261.4h0M458.4 252.4h0M457.5 249.4h0M455.7 246.4h0M457.1 245.4h0M455.3 258.4h0M471.8 258.4h0" stroke="#ff0056"/><path d="M563.7 69.5h0M558.8 68.5h0M574.4 68.5h0M530.9 67.5h0M551.7 64.7h0M548.5 65.7h0M566.9 64.7h0M545.8 63.8h0M568.0 65.7h0M556.7 71.3h0M566.2 67.5h0M575.0 69.5h0M597.4 68.5h0M579.9 70.4h0M581.6 69.5h0M582.7 71.3h0M526.7 108.0h0M531.2 113.6h0M515.3 114.3h0M501.0 119.2h0M508.8 117.1h0M518.0 120.6h0M528.4 118.5h0M512.4 104.5h0M515.6 114.3h0M517.6 108.0h0M525.0 119.2h0M517.8 103.8h0M505.2 110.1h0M512.5 102.4h0M519.1 124.8h0M513.6 107.3h0M513.0 127.6h0M526.1 107.3h0M516.1 126.2h0M533.7 117.8h0M501.2 108.7h0M513.9 123.4h0M513.7 121.3h0M517.2 117.1h0M535.2 116.4h0M505.8 127.6h0M511.8 122.7h0M527.9 112.9h0M510.2 129.0h0M507.4 107.3h0M519.0 105.9h0M501.8 104.5h0M521.0 105.9h0M502.5 110.8h0M507.1 119.9h0M506.4 102.4h0M527.4 115.0h0M515.0 115.0h0M518.7 105.2h0M532.7 119.9h0M525.4 108.7h0M527.1 110.8h0M520.7 107.3h0M535.9 115.7h0M509.8 128.3h0M451.7 161.7h0M431.9 162.7h0M433.5 163.7h0M458.1 161.7h0M452.3 162.7h0M458.4 162.7h0M453.7 163.7h0M432.9 162.7h0M439.2 163.7h0M460.0 163.7h0M455.4 164.7h0M440.1 163.7h0M434.7 163.7h0M438.6 161.7h0M452.2 163.7h0M458.9 163.7h0M435.4 164.7h0M439.8 161.7h0M450.9 162.7h0M443.1 162.7h0M423.6 162.7h0M450.4 163.7h0M433.7 161.7h0M457.7 164.7h0M493.8 211.6h0M507.9 212.6h0M494.3 208.6h0M511.2 212.6h0M524.7 209.6h0M509.6 209.6h0M495.8 211.6h0M499.1 210.6h0M504.9 209.6h0M498.7 209.6h0M490.4 211.6h0M514.8 211.6h0M514.6 210.6h0M494.5 210.6h0M492.7 209.6h0M321.2 256.4h0M342.0 256.4h0M317.3 256.4h0M338.2 256.4h0M329.7 256.4h0M319.4 258.4h0M360.9 256.4h0M323.9 255.4h0M318.0 256.4h0M322.4 255.4h0M316.5 257.4h0M323.5 256.4h0M357.2 256.4h0" stroke="#008bfb"/><path d="M291.3 72.3h0M292.4 59.0h0M277.1 73.2h0M291.0 71.3h0M286.1 62.8h0M293.4 60.9h0M290.1 79.0h0M417.3 119.2h0M417.0 117.8h0M490.7 162.7h0M490.4 165.7h0M490.5 156.7h0M490.9 168.7h0M490.8 167.7h0M490.2 158.7h0M376.6 209.6h0M377.6 203.6h0M378.5 214.6h0M439.2 254.4h0" stroke="#e40082"/><path d="M274.4 68.5h0M264.8 74.2h0M271.3 74.2h0M256.1 63.8h0M266.3 65.7h0M399.4 113.6h0M405.6 114.3h0M400.0 114.3h0M495.4 158.7h0M368.0 213.6h0M367.0 212.6h0M370.0 212.6h0M446.7 255.4h0" stroke="#f20071"/><path d="M304.3 72.3h0M294.4 67.5h0M303.1 64.7h0M332.7 74.2h0M310.2 60.0h0M293.6 77.0h0M317.3 63.8h0M305.8 61.9h0M308.6 77.0h0M427.0 116.4h0M423.1 111.5h0M486.7 175.7h0M486.9 153.7h0M487.8 152.7h0M486.2 167.7h0M487.3 167.7h0M486.7 159.7h0M386.1 206.6h0M384.1 200.6h0M387.1 202.6h0M386.6 207.6h0M387.4 202.6h0M389.8 204.6h0M385.2 212.6h0M383.6 205.6h0M385.1 215.6h0M434.8 262.4h0M434.6 262.4h0M435.1 253.4h0M436.4 247.4h0" stroke="#d20091"/><path d="M514.7 73.2h0M560.0 66.6h0M517.3 66.6h0M514.2 71.3h0M527.5 66.6h0M511.4 67.5h0M523.1 72.3h0M498.6 107.3h0M499.6 117.8h0M463.2 172.7h0M463.9 165.7h0M463.0 171.7h0M463.5 170.7h0M475.4 212.6h0M475.2 205.6h0M474.6 208.6h0M473.5 207.6h0M472.5 212.6h0" stroke="#007ff6"/><path d="M572.4 64.7h0M571.7 63.8h0M568.7 66.6h0M545.2 65.7h0M594.5 69.5h0M570.8 75.2h0M562.0 69.5h0M532.0 74.2h0M531.0 70.4h0M552.0 73.2h0M550.6 71.3h0M581.3 64.7h0M538.5 65.7h0M522.8 111.5h0M508.0 109.4h0M503.4 108.0h0M524.3 126.9h0M522.3 127.6h0M509.2 102.4h0M521.4 106.6h0M529.9 103.8h0M527.3 111.5h0M514.3 108.0h0M520.8 123.4h0M511.6 110.1h0M503.2 111.5h0M520.3 114.3h0M512.0 110.1h0M508.7 110.8h0M525.9 125.5h0M508.8 108.0h0M530.2 107.3h0M523.9 120.6h0M502.4 103.1h0M524.7 116.4h0M528.8 120.6h0M506.7 124.8h0M522.1 110.8h0M530.5 122.7h0M534.6 117.1h0M435.7 162.7h0M442.7 161.7h0M461.3 160.7h0M404.6 162.7h0M448.6 162.7h0M442.0 162.7h0M501.1 210.6h0M497.6 211.6h0M489.8 208.6h0M518.4 209.6h0M486.3 210.6h0M512.3 206.6h0M481.2 210.6h0M359.8 256.4h0M324.2 257.4h0M316.9 258.4h0" stroke="#0088fa"/><path d="M495.8 70.4h0M517.8 68.5h0M506.8 71.3h0M500.1 72.3h0M497.4 122.7h0M464.1 174.7h0M464.1 157.7h0M471.9 203.6h0M471.3 209.6h0M473.7 211.6h0M370.5 256.4h0" stroke="#0078f3"/><path d="M237.1 71.3h0M263.0 65.7h0M253.1 67.5h0M256.3 64.7h0M232.6 73.2h0M229.0 66.6h0M245.8 74.2h0M381.6 115.0h0M394.2 114.3h0M495.3 160.7h0M496.9 166.7h0M362.7 207.6h0M363.7 205.6h0M365.9 208.6h0M362.4 210.6h0M450.3 253.4h0M449.5 268.4h0M451.0 252.4h0M449.2 260.4h0M450.7 246.4h0" stroke="#f80068"/><path d="M278.2 76.1h0M263.2 67.5h0M260.7 68.5h0M260.4 64.7h0M287.3 74.2h0M269.1 72.3h0M267.4 73.2h0M412.0 116.4h0M398.1 116.4h0M493.6 166.7h0M492.8 160.7h0M492.9 169.7h0M493.4 157.7h0M372.3 206.6h0M372.2 212.6h0M369.7 211.6h0M444.8 258.4h0M447.1 253.4h0" stroke="#ef0075"/><path d="M337.9 62.8h0M321.6 64.7h0M318.0 75.2h0M324.0 72.3h0M325.9 73.2h0M317.5 65.7h0M317.0 69.5h0M337.0 60.9h0M332.1 66.6h0M427.7 120.6h0M440.7 112.2h0M428.0 108.7h0M427.5 121.3h0M431.9 111.5h0M485.6 165.7h0M485.4 164.7h0M391.2 208.6h0M396.0 211.6h0M397.4 210.6h0M394.0 211.6h0M395.4 215.6h0M397.0 204.6h0M396.9 210.6h0M430.4 261.4h0M428.3 252.4h0M426.4 251.4h0M428.4 256.4h0M429.0 258.4h0M427.8 250.4h0" stroke="#c70098"/><path d="M445.1 71.3h0M449.4 62.8h0M421.5 77.0h0M452.6 65.7h0M441.8 77.0h0M433.3 59.0h0M449.0 72.3h0M443.2 62.8h0M439.8 71.3h0M436.1 61.9h0M472.6 118.5h0M479.9 111.5h0M478.9 125.5h0M469.1 117.1h0M472.6 173.7h0M473.1 156.7h0M473.0 154.7h0M445.1 216.6h0M445.7 204.6h0M446.2 203.6h0M446.4 208.6h0M445.5 207.6h0M393.6 255.4h0M395.7 260.4h0" stroke="#764ed0"/><path d="M372.1 73.2h0M354.9 70.4h0M351.5 69.5h0M353.4 70.4h0M342.1 75.2h0M357.6 71.3h0M323.7 63.8h0M381.6 77.0h0M358.3 63.8h0M364.9 70.4h0M334.1 61.9h0M360.8 69.5h0M355.7 75.2h0M346.5 70.4h0M356.9 61.9h0M445.6 119.9h0M446.1 120.6h0M444.6 108.7h0M482.6 154.7h0M420.6 209.6h0M413.5 210.6h0" stroke="#af11a5"/><path d="M379.9 72.3h0M366.3 66.6h0M377.2 78.0h0M394.6 64.7h0M363.1 76.1h0M365.5 78.0h0M363.6 75.2h0M384.2 58.0h0M358.5 60.9h0M362.6 60.0h0M376.4 72.3h0M390.4 76.1h0M381.9 78.0h0M454.4 113.6h0M450.9 126.2h0M458.3 105.2h0M454.8 115.7h0M448.9 115.0h0M452.5 107.3h0M479.7 167.7h0M480.2 171.7h0M480.1 162.7h0M480.7 166.7h0M480.4 157.7h0M480.3 161.7h0M480.5 173.7h0M423.1 209.6h0M411.8 255.4h0" stroke="#a21eaa"/><path d="M469.8 72.3h0M451.8 70.4h0M454.0 71.3h0M449.9 61.9h0M472.6 67.5h0M485.0 122.0h0M490.6 106.6h0M489.6 105.2h0M491.5 119.9h0M486.8 105.2h0M483.0 105.2h0M492.2 126.9h0M488.6 127.6h0M491.1 122.7h0M470.4 159.7h0M470.4 167.7h0M470.8 167.7h0M470.9 173.7h0M470.4 165.7h0M457.4 209.6h0M456.9 208.6h0M458.1 211.6h0M457.3 204.6h0M455.6 204.6h0M458.6 210.6h0M455.0 210.6h0M453.4 212.6h0M459.5 206.6h0M386.5 255.4h0" stroke="#5f5bdc"/><path d="M539.7 69.5h0M590.1 65.7h0M510.6 69.5h0M513.9 66.6h0M546.8 70.4h0M526.2 65.7h0M547.5 64.7h0M521.1 68.5h0M570.6 74.2h0M499.4 114.3h0M502.9 113.6h0M502.3 105.9h0M512.1 125.5h0M507.6 121.3h0M513.3 130.4h0M515.9 112.9h0M524.4 103.1h0M499.8 126.2h0M510.4 103.8h0M528.1 119.9h0M461.7 160.7h0M462.1 165.7h0M477.1 209.6h0" stroke="#0085f9"/><path d="M426.0 60.9h0M425.2 60.0h0M437.7 64.7h0M432.7 60.9h0M427.9 72.3h0M428.9 59.0h0M438.8 60.0h0M468.3 112.2h0M475.0 128.3h0M478.0 124.1h0M475.8 109.4h0M476.7 117.1h0M474.3 158.7h0M439.5 215.6h0M437.7 206.6h0M437.0 211.6h0" stroke="#7d49cb"/><path d="M270.1 65.7h0M276.3 71.3h0M407.2 112.2h0M492.8 167.7h0M491.6 164.7h0M373.0 207.6h0M445.4 259.4h0M443.1 255.4h0M444.2 257.4h0" stroke="#eb0079"/><path d="M491.5 67.5h0M497.0 115.0h0M464.6 156.7h0M464.4 158.7h0M464.9 159.7h0M464.9 176.7h0M468.9 212.6h0M468.5 217.6h0M373.6 254.4h0M372.4 258.4h0" stroke="#0075f1"/><path d="M365.1 71.3h0M362.8 74.2h0M373.9 76.1h0M382.9 70.4h0M380.4 68.5h0M380.2 80.8h0M365.7 79.0h0M358.9 65.7h0M353.1 71.3h0M366.7 69.5h0M371.8 78.0h0M375.3 59.0h0M362.0 68.5h0M363.9 64.7h0M336.4 72.3h0M372.5 60.0h0M452.3 108.0h0M451.4 112.9h0M481.9 158.7h0M481.8 171.7h0M481.0 156.7h0M482.0 167.7h0M417.1 210.6h0" stroke="#a918a8"/><path d="M284.0 72.3h0M278.9 69.5h0M289.2 73.2h0M285.2 76.1h0M416.1 114.3h0M413.7 117.1h0M417.4 112.2h0M414.7 116.4h0M492.2 167.7h0M491.1 169.7h0M492.0 155.7h0M490.8 171.7h0M492.0 168.7h0M491.3 171.7h0M375.7 214.6h0M374.2 213.6h0M439.9 254.4h0M441.1 256.4h0M439.8 260.4h0" stroke="#e8007e"/><path d="M281.5 76.1h0M295.4 65.7h0M284.8 67.5h0M291.5 74.2h0M285.8 61.9h0M411.2 117.1h0M418.5 116.4h0M489.8 164.7h0M489.9 159.7h0M489.0 155.7h0M489.5 161.7h0M490.0 155.7h0M379.9 205.6h0M380.6 214.6h0M378.0 207.6h0M378.4 210.6h0M379.6 219.6h0M437.7 253.4h0M438.0 257.4h0M437.6 254.4h0M439.4 253.4h0M438.1 255.4h0" stroke="#e00086"/><path d="M542.6 68.5h0M569.4 70.4h0M547.1 75.2h0M538.1 67.5h0M518.9 64.7h0M515.3 71.3h0M559.4 65.7h0M521.7 67.5h0M500.3 117.1h0M510.7 112.9h0M513.1 124.1h0M462.5 169.7h0M462.6 154.7h0M462.3 166.7h0" stroke="#0082f8"/><path d="M342.8 67.5h0M338.9 66.6h0M333.5 68.5h0M376.9 73.2h0M368.7 66.6h0M370.0 74.2h0M354.5 78.0h0M341.7 70.4h0M447.7 109.4h0M437.4 108.0h0M447.5 116.4h0M448.2 119.9h0M447.5 107.3h0M437.0 117.1h0M446.7 121.3h0M483.0 170.7h0M484.2 163.7h0M482.4 157.7h0M483.2 168.7h0M421.9 257.4h0M419.2 256.4h0M413.0 257.4h0" stroke="#b606a2"/><path d="M340.6 63.8h0M320.7 67.5h0M335.5 71.3h0M345.9 61.9h0M435.8 119.2h0M441.9 118.5h0M429.0 122.0h0M437.9 110.8h0M434.7 118.5h0M434.5 120.6h0M434.2 119.2h0M440.5 115.7h0M484.4 162.7h0M484.4 158.7h0M484.5 152.7h0M484.3 167.7h0M485.0 159.7h0M395.5 213.6h0M400.9 206.6h0M396.6 208.6h0M399.4 213.6h0M400.2 211.6h0M424.4 255.4h0" stroke="#c2009c"/><path d="M335.0 63.8h0M328.1 66.6h0M351.3 67.5h0M344.0 73.2h0M357.1 64.7h0M333.0 71.3h0M326.8 70.4h0M361.6 77.0h0M349.8 61.9h0M356.5 72.3h0M326.1 71.3h0M319.2 62.8h0M343.5 61.9h0M330.9 70.4h0M348.5 74.2h0M442.7 116.4h0M443.4 118.5h0M433.0 113.6h0M483.4 151.7h0M483.5 164.7h0M483.5 149.7h0M484.0 160.7h0M483.8 155.7h0M483.9 171.7h0M483.8 150.7h0M423.7 256.4h0M425.3 255.4h0M423.6 260.4h0M423.9 259.4h0" stroke="#bc009f"/><path d="M409.4 77.0h0M380.7 70.4h0M405.0 68.5h0M404.1 71.3h0M388.2 60.9h0M398.7 61.9h0M380.6 60.9h0M388.7 78.0h0M393.4 70.4h0M408.4 74.2h0M389.4 69.5h0M462.5 117.8h0M465.1 110.1h0M460.7 105.9h0M459.4 125.5h0M464.6 112.9h0M465.6 122.7h0M463.4 121.3h0M477.0 149.7h0M477.2 165.7h0M476.8 152.7h0M477.3 157.7h0M429.3 195.6h0M431.0 198.6h0M428.7 221.6h0M430.1 219.6h0M432.4 221.6h0M432.1 222.6h0M430.6 210.6h0M427.7 199.6h0M429.3 200.6h0M428.4 196.6h0M403.1 253.4h0M403.8 255.4h0M403.6 258.4h0M404.1 254.4h0" stroke="#9232b8"/><path d="M223.6 69.5h0M202.8 65.7h0M222.3 66.6h0M195.1 65.7h0M233.3 68.5h0M187.5 66.6h0M193.6 71.3h0M499.5 168.7h0M500.4 163.7h0M499.1 166.7h0M502.0 166.7h0M501.0 162.7h0M501.9 165.7h0M355.4 209.6h0M455.0 248.4h0M454.3 241.4h0M454.6 251.4h0M456.4 251.4h0M456.3 258.4h0M452.9 252.4h0" stroke="#ff005a"/><path d="M475.4 70.4h0M496.3 108.0h0M465.5 156.7h0M465.4 171.7h0M465.5 173.7h0M465.7 167.7h0M466.2 177.7h0M465.9 163.7h0M467.3 207.6h0" stroke="#0e6eec"/><path d="M431.9 70.4h0M430.7 61.9h0M415.4 73.2h0M404.9 80.8h0M467.9 125.5h0M472.5 123.4h0M478.0 117.8h0M466.5 116.4h0M467.9 108.7h0M471.8 111.5h0M471.9 108.7h0M473.0 125.5h0M469.4 114.3h0M470.2 126.2h0M463.8 115.7h0M470.5 117.1h0M470.4 112.2h0M475.8 157.7h0M474.8 173.7h0M438.6 214.6h0M436.4 206.6h0M435.2 208.6h0M438.3 202.6h0M435.9 203.6h0" stroke="#8344c7"/><path d="M389.9 67.5h0M402.0 79.9h0M418.8 61.9h0M403.6 79.0h0M415.3 72.3h0M400.0 56.1h0M404.5 72.3h0M414.6 75.2h0M415.1 76.1h0M384.4 78.0h0M413.0 60.0h0M410.7 72.3h0M411.2 63.8h0M400.5 83.7h0M402.8 62.8h0M411.7 64.7h0M416.4 60.0h0M464.6 117.1h0M470.6 114.3h0M468.1 122.0h0M462.4 116.4h0M467.7 106.6h0M464.1 128.3h0M472.2 129.7h0M476.4 171.7h0M476.5 174.7h0M433.4 217.6h0M429.5 206.6h0M429.9 212.6h0M431.3 218.6h0M433.6 200.6h0M429.9 223.6h0M429.1 217.6h0M431.9 212.6h0M429.0 211.6h0M432.1 220.6h0M430.0 198.6h0M433.5 222.6h0M433.1 223.6h0M402.8 260.4h0" stroke="#8e38bd"/><path d="M497.8 70.4h0M500.9 69.5h0M488.0 73.2h0M493.8 63.8h0M481.7 75.2h0M488.5 63.8h0M496.9 68.5h0M464.8 147.7h0M375.1 256.4h0M371.9 259.4h0" stroke="#0075f1"/><path d="M287.9 78.0h0M295.1 71.3h0M292.5 65.7h0M297.0 79.9h0M288.2 60.0h0M304.8 69.5h0M289.0 75.2h0M293.2 64.7h0M416.3 120.6h0M423.7 113.6h0M423.2 110.8h0M420.3 112.9h0M489.8 153.7h0M489.7 166.7h0M490.7 169.7h0M490.1 172.7h0M489.5 157.7h0M378.1 216.6h0M379.7 198.6h0M380.4 211.6h0M437.8 250.4h0M438.6 250.4h0" stroke="#e00086"/><path d="M519.7 73.2h0M529.8 69.5h0M534.8 71.3h0M529.0 70.4h0M511.9 68.5h0M519.0 70.4h0M526.7 71.3h0M497.8 110.8h0M500.3 107.3h0M499.0 105.9h0M463.8 169.7h0M463.2 154.7h0M463.1 162.7h0M470.3 210.6h0M472.6 209.6h0M476.0 209.6h0M474.3 210.6h0M472.2 213.6h0M471.5 205.6h0" stroke="#007ff6"/><path d="M386.9 76.1h0M396.5 55.2h0M419.7 68.5h0M395.8 82.8h0M383.9 53.3h0M395.9 79.0h0M407.8 63.8h0M401.8 59.0h0M386.6 83.7h0M396.3 72.3h0M404.2 74.2h0M389.7 64.7h0M462.6 119.9h0M462.8 106.6h0M463.9 124.8h0M465.4 102.4h0M463.1 103.8h0M463.0 129.0h0M465.3 124.1h0M477.7 170.7h0M477.6 171.7h0M477.9 161.7h0M476.7 175.7h0M478.2 155.7h0M478.0 151.7h0M429.6 209.6h0M428.0 204.6h0M431.1 207.6h0M428.4 209.6h0M427.9 212.6h0M431.6 210.6h0M428.5 223.6h0M430.6 204.6h0M430.7 220.6h0M430.8 201.6h0M402.5 254.4h0M402.2 258.4h0" stroke="#9232b8"/><path d="M311.2 60.9h0M315.5 65.7h0M312.5 70.4h0M301.9 70.4h0M439.9 122.0h0M432.5 109.4h0M435.3 114.3h0M430.7 119.2h0M433.3 110.8h0M436.4 116.4h0M486.0 156.7h0M485.0 154.7h0M486.1 150.7h0M486.5 165.7h0M486.1 172.7h0M485.5 170.7h0M485.4 175.7h0M392.6 214.6h0M394.6 212.6h0M398.4 207.6h0M396.3 209.6h0M399.0 213.6h0M402.8 208.6h0M390.0 206.6h0M400.4 210.6h0M397.6 214.6h0M391.3 208.6h0M398.6 208.6h0M393.3 209.6h0M426.8 254.4h0M429.4 254.4h0M431.6 260.4h0M429.8 253.4h0M429.6 257.4h0M430.6 260.4h0M429.9 255.4h0M427.7 255.4h0M427.2 262.4h0" stroke="#c70098"/><path d="M283.5 73.2h0M272.8 69.5h0M265.9 66.6h0M276.0 75.2h0M263.9 71.3h0M408.2 118.5h0M406.8 115.0h0M403.2 115.0h0M405.9 112.9h0M408.4 118.5h0M493.1 170.7h0M493.3 168.7h0M493.0 156.7h0M371.7 205.6h0M444.1 254.4h0M444.7 252.4h0M446.1 264.4h0M443.6 258.4h0M446.7 260.4h0" stroke="#ef0075"/><path d="M293.8 56.1h0M294.9 68.5h0M307.0 66.6h0M421.5 113.6h0M489.2 171.7h0M489.1 163.7h0M379.8 200.6h0M382.6 206.6h0M381.5 207.6h0M381.8 211.6h0M381.9 204.6h0M381.0 202.6h0M380.1 204.6h0M384.2 199.6h0M384.1 209.6h0M382.1 198.6h0M382.8 216.6h0M379.6 207.6h0M380.2 217.6h0M381.1 201.6h0M380.0 215.6h0M381.3 209.6h0M437.0 264.4h0" stroke="#db008a"/><path d="M206.4 69.5h0M262.6 69.5h0M391.5 115.7h0M399.1 115.0h0M494.7 159.7h0M494.2 157.7h0M367.4 205.6h0M367.3 215.6h0M364.9 212.6h0M370.9 207.6h0M366.8 203.6h0M449.3 266.4h0M447.5 257.4h0" stroke="#f5006c"/><path d="M487.3 66.6h0M508.2 65.7h0M489.4 68.5h0M477.5 64.7h0M498.2 118.5h0M496.9 116.4h0M464.8 177.7h0M465.3 168.7h0M465.2 173.7h0M467.4 205.6h0M466.9 209.6h0M375.5 257.4h0" stroke="#0072ee"/><path d="M307.9 59.0h0M304.9 63.8h0M306.1 70.4h0M302.8 67.5h0M300.3 62.8h0M415.8 117.8h0M422.3 119.2h0M487.6 159.7h0M487.9 169.7h0M488.3 168.7h0M488.7 158.7h0M488.5 170.7h0M385.9 219.6h0M384.7 217.6h0M384.0 214.6h0M384.8 218.6h0M385.0 213.6h0M383.3 199.6h0M384.9 202.6h0M383.8 208.6h0M383.4 216.6h0M382.9 208.6h0M382.5 215.6h0M383.7 211.6h0M384.6 219.6h0M437.5 257.4h0M435.6 261.4h0M435.1 257.4h0M434.0 257.4h0M435.4 263.4h0M435.3 249.4h0M436.8 258.4h0" stroke="#d7008d"/><path d="M475.1 71.3h0M484.6 67.5h0M487.0 72.3h0M479.9 69.5h0M472.7 76.1h0M496.8 113.6h0M494.7 115.0h0M466.3 176.7h0M466.5 161.7h0M466.4 152.7h0M466.6 159.7h0M466.7 166.7h0M467.2 164.7h0M378.8 256.4h0" stroke="#2d6be9"/><path d="M249.0 67.5h0M251.3 71.3h0M259.1 65.7h0M247.4 63.8h0M246.0 64.7h0M391.0 116.4h0M373.1 115.0h0M379.3 115.7h0M495.2 166.7h0M496.0 157.7h0M496.3 158.7h0M362.9 208.6h0M364.6 208.6h0M449.0 262.4h0M451.3 248.4h0M449.3 256.4h0" stroke="#f80068"/><path d="M539.0 66.6h0M548.9 68.5h0M571.2 64.7h0M502.0 122.0h0M507.7 115.7h0M525.2 129.0h0M505.6 105.9h0M507.2 115.0h0M530.7 124.1h0M501.3 125.5h0M506.3 120.6h0M508.3 130.4h0M531.1 116.4h0M524.4 126.2h0M500.5 128.3h0M510.7 127.6h0M533.4 119.2h0M518.0 106.6h0M426.2 162.7h0M461.2 164.7h0M461.6 158.7h0M460.9 166.7h0M459.1 166.7h0M461.6 171.7h0M418.5 162.7h0M460.1 160.7h0M460.2 161.7h0M444.8 163.7h0M462.0 163.7h0M508.8 207.6h0M486.6 211.6h0M492.1 208.6h0M485.6 209.6h0M488.8 211.6h0M324.6 256.4h0M337.1 256.4h0M352.6 256.4h0M321.7 258.4h0" stroke="#0088fa"/><path d="M290.2 68.5h0M282.0 65.7h0M271.0 68.5h0M289.4 63.8h0M492.3 159.7h0M491.5 162.7h0M491.2 159.7h0M491.8 160.7h0M491.3 170.7h0M376.9 206.6h0M372.8 204.6h0M375.5 204.6h0M376.3 211.6h0M440.0 259.4h0M440.7 253.4h0" stroke="#e8007e"/><path d="M371.4 76.1h0M361.2 64.7h0M379.4 79.0h0M372.6 61.9h0M367.7 76.1h0M363.7 79.0h0M368.0 72.3h0M379.2 60.0h0M379.5 56.1h0M357.4 60.0h0M340.0 68.5h0M444.7 112.2h0M447.0 117.1h0M450.6 120.6h0M445.2 117.1h0M481.2 166.7h0M481.7 168.7h0M414.7 209.6h0M408.5 257.4h0M409.7 257.4h0" stroke="#a918a8"/><path d="M235.2 74.2h0M214.6 66.6h0M196.8 70.4h0M233.8 63.8h0M205.7 68.5h0M220.1 66.6h0M167.0 68.5h0M278.6 115.7h0M377.3 115.0h0M500.5 159.7h0M502.9 163.7h0M500.6 158.7h0M502.5 159.7h0M498.6 163.7h0M354.2 210.6h0M346.2 212.6h0M353.7 208.6h0M354.8 211.6h0M457.0 248.4h0M454.9 265.4h0M455.9 262.4h0M453.3 246.4h0M453.3 265.4h0M454.0 268.4h0" stroke="#ff005a"/><path d="M339.5 75.2h0M338.6 74.2h0M335.8 65.7h0M346.9 63.8h0M356.3 66.6h0M362.5 70.4h0M341.3 64.7h0M337.6 67.5h0M348.1 62.8h0M345.7 66.6h0M355.7 76.1h0M445.7 110.8h0M448.4 117.8h0M434.1 108.0h0M483.5 165.7h0M483.2 173.7h0M482.6 160.7h0M482.4 159.7h0M483.0 167.7h0M483.7 176.7h0M483.3 157.7h0M412.5 209.6h0M422.4 254.4h0" stroke="#b606a2"/><path d="M462.4 75.2h0M461.7 63.8h0M456.7 75.2h0M463.6 63.8h0M458.8 64.7h0M479.4 116.4h0M484.1 110.8h0M494.9 115.7h0M481.6 125.5h0M492.2 103.8h0M481.4 111.5h0M486.1 105.9h0M469.7 171.7h0M471.1 159.7h0M470.2 173.7h0M470.3 172.7h0M470.0 176.7h0M456.2 206.6h0M454.7 205.6h0M454.0 205.6h0M454.9 209.6h0M388.4 253.4h0" stroke="#5f5bdc"/><path d="M281.7 77.0h0M280.3 60.9h0M279.8 66.6h0M284.2 63.8h0M277.7 63.8h0M269.3 70.4h0M412.7 115.0h0M409.9 112.9h0M407.8 117.1h0M374.3 211.6h0M371.2 210.6h0M372.4 211.6h0M373.5 203.6h0M372.6 208.6h0M440.9 255.4h0M442.1 256.4h0M443.2 256.4h0" stroke="#eb0079"/><path d="M318.4 64.7h0M298.4 67.5h0M306.3 75.2h0M296.5 63.8h0M425.8 120.6h0M488.5 156.7h0M486.8 176.7h0M488.2 175.7h0M487.5 162.7h0M487.2 173.7h0M388.0 205.6h0M387.4 209.6h0M390.7 207.6h0M386.2 212.6h0M386.6 215.6h0M387.0 218.6h0M387.9 213.6h0M431.1 262.4h0M433.4 263.4h0M433.7 260.4h0M433.9 261.4h0M434.5 256.4h0M433.2 252.4h0M432.5 250.4h0" stroke="#d20091"/><path d="M474.6 67.5h0M470.1 66.6h0M492.7 120.6h0M492.5 116.4h0M495.1 117.8h0M492.4 127.6h0M468.8 172.7h0M468.8 177.7h0M468.6 148.7h0M468.0 150.7h0M468.9 170.7h0M467.5 151.7h0M468.2 159.7h0M463.9 211.6h0M459.2 202.6h0" stroke="#4b63e3"/><path d="M365.3 60.9h0M355.1 77.0h0M354.1 74.2h0M347.7 72.3h0M349.5 73.2h0M369.3 68.5h0M335.3 75.2h0M345.2 64.7h0M344.6 74.2h0M374.9 68.5h0M376.2 57.1h0M360.1 65.7h0M482.8 164.7h0M482.2 166.7h0M481.8 153.7h0M482.1 152.7h0M481.4 164.7h0M481.6 163.7h0" stroke="#af11a5"/><path d="M338.4 64.7h0M324.3 66.6h0M327.9 73.2h0M331.4 73.2h0M331.6 76.1h0M341.0 76.1h0M355.3 73.2h0M443.7 109.4h0M440.6 123.4h0M443.1 114.3h0M441.7 117.8h0M483.9 153.7h0M484.2 154.7h0M483.4 174.7h0M484.1 156.7h0M404.2 210.6h0M403.7 208.6h0M424.5 257.4h0M424.1 252.4h0" stroke="#bc009f"/><path d="M400.7 53.3h0M418.3 66.6h0M404.7 55.2h0M429.6 69.5h0M407.7 69.5h0M439.0 78.0h0M425.3 79.0h0M394.7 73.2h0M417.2 67.5h0M434.1 75.2h0M406.7 80.8h0M419.4 73.2h0M469.9 108.0h0M471.6 131.1h0M472.2 107.3h0M476.5 110.8h0M468.7 103.1h0M469.7 130.4h0M464.3 108.0h0M469.8 119.2h0M470.3 124.8h0M476.1 166.7h0M476.3 164.7h0M475.7 161.7h0M476.0 173.7h0M475.0 163.7h0M432.0 194.6h0M434.4 198.6h0M437.3 217.6h0M431.1 209.6h0M432.5 219.6h0M436.1 209.6h0M431.3 196.6h0M400.1 258.4h0" stroke="#883ec2"/><path d="M464.8 69.5h0M473.2 74.2h0M466.3 64.7h0M460.2 70.4h0M462.8 73.2h0M465.6 70.4h0M487.7 124.8h0M494.1 117.1h0M489.3 115.0h0M491.6 112.2h0M492.9 122.0h0M469.3 177.7h0M469.4 146.7h0M469.2 169.7h0M469.8 154.7h0M459.7 205.6h0M459.3 214.6h0M387.5 258.4h0M386.1 260.4h0" stroke="#565fe0"/><path d="M310.4 69.5h0M314.9 72.3h0M307.5 70.4h0M327.2 67.5h0M304.2 71.3h0M429.7 115.7h0M428.5 116.4h0M431.2 117.8h0M428.9 113.6h0M426.1 115.7h0M427.4 122.7h0M426.5 122.0h0M428.6 114.3h0M487.2 165.7h0M486.9 162.7h0M486.3 152.7h0M486.6 155.7h0M485.0 163.7h0M392.7 204.6h0M394.9 205.6h0M388.3 207.6h0M395.0 208.6h0M396.7 214.6h0M391.0 209.6h0M389.0 214.6h0M393.4 214.6h0M390.2 214.6h0M392.4 210.6h0M388.6 215.6h0M431.0 251.4h0M430.8 258.4h0M428.6 261.4h0M431.2 256.4h0M434.2 249.4h0M427.9 257.4h0M431.4 253.4h0" stroke="#cd0095"/><path d="M370.4 80.8h0M386.7 56.1h0M382.9 74.2h0M382.6 73.2h0M383.1 73.2h0M405.6 76.1h0M374.3 67.5h0M370.9 69.5h0M463.6 126.9h0M465.9 101.7h0M461.7 126.9h0M460.2 111.5h0M457.4 118.5h0M461.3 119.2h0M458.6 124.8h0M462.0 114.3h0M464.7 104.5h0M463.2 127.6h0M459.6 110.1h0M478.4 172.7h0M477.4 152.7h0M477.8 156.7h0M477.7 160.7h0M427.8 195.6h0M429.0 222.6h0M427.8 224.6h0M428.6 216.6h0M426.9 218.6h0M406.6 256.4h0M404.5 259.4h0M406.0 255.4h0" stroke="#972bb2"/><path d="M531.6 64.7h0M522.3 69.5h0M543.5 72.3h0M513.6 122.0h0M526.5 106.6h0M463.4 159.7h0M478.6 210.6h0M479.0 209.6h0M479.3 211.6h0M482.0 208.6h0M477.8 207.6h0" stroke="#0082f8"/><path d="M375.1 75.2h0M386.9 77.0h0M390.8 79.0h0M385.2 55.2h0M399.4 78.0h0M388.9 70.4h0M378.6 75.2h0M458.2 124.1h0M452.6 125.5h0M461.5 106.6h0M480.3 163.7h0M480.5 165.7h0M479.9 153.7h0M478.8 154.7h0M479.9 164.7h0M479.8 159.7h0M422.3 208.6h0M427.2 215.6h0M427.1 201.6h0M426.8 202.6h0M405.1 256.4h0M405.0 255.4h0" stroke="#9b23ad"/><path d="M441.1 67.5h0M437.4 70.4h0M453.9 74.2h0M471.3 73.2h0M455.5 63.8h0M444.6 61.9h0M435.4 71.3h0M436.9 65.7h0M451.5 60.9h0M483.9 110.1h0M488.9 123.4h0M474.7 104.5h0M471.1 127.6h0M482.5 114.3h0M479.6 108.0h0M488.4 111.5h0M481.3 118.5h0M482.0 120.6h0M482.7 119.2h0M471.8 160.7h0M471.6 170.7h0M471.8 162.7h0M446.8 211.6h0M448.1 207.6h0M447.5 216.6h0M444.7 210.6h0M447.8 206.6h0M449.3 208.6h0M450.7 209.6h0M443.4 212.6h0M450.6 206.6h0M445.7 217.6h0M392.8 256.4h0M392.1 259.4h0M390.7 260.4h0" stroke="#6f52d4"/><path d="M228.4 68.5h0M201.1 71.3h0M194.3 68.5h0M206.7 66.6h0M171.7 68.5h0M213.5 68.5h0M185.1 69.5h0M255.1 115.7h0M501.4 161.7h0M502.3 163.7h0M502.6 166.7h0M500.1 160.7h0M503.8 160.7h0M507.0 163.7h0M501.5 160.7h0M503.0 164.7h0M512.7 164.7h0M505.1 161.7h0M353.2 210.6h0M334.3 207.6h0M338.6 205.6h0M456.6 263.4h0M455.8 264.4h0M469.3 256.4h0M455.2 243.4h0M457.4 249.4h0M457.5 256.4h0M455.6 247.4h0" stroke="#ff0056"/><path d="M529.2 62.8h0M527.7 69.5h0M526.5 75.2h0M547.9 72.3h0M554.9 67.5h0M528.6 63.8h0M562.6 70.4h0M552.9 70.4h0M503.1 115.7h0M526.4 123.4h0M504.1 111.5h0M509.6 122.7h0M502.1 119.9h0M514.9 106.6h0M500.6 124.1h0M507.1 112.2h0M462.7 156.7h0M462.0 164.7h0" stroke="#0085f9"/><path d="M523.8 73.2h0M497.7 109.4h0M498.8 124.8h0M464.0 163.7h0M463.6 153.7h0M474.5 211.6h0M370.8 258.4h0" stroke="#007cf5"/><path d="M245.3 66.6h0M212.0 69.5h0M189.8 71.3h0M197.9 66.6h0M242.7 72.3h0M188.6 72.3h0M363.2 116.4h0M361.6 115.7h0M375.6 117.1h0M498.0 167.7h0M499.4 161.7h0M498.8 160.7h0M499.6 159.7h0M498.2 162.7h0M355.7 210.6h0M452.4 244.4h0M454.7 263.4h0M454.9 255.4h0M453.9 254.4h0M454.0 263.4h0M452.9 248.4h0M452.0 254.4h0M453.6 259.4h0" stroke="#fd005f"/><path d="M348.9 71.3h0M392.6 69.5h0M375.8 60.9h0M360.7 66.6h0M378.1 59.0h0M361.9 59.0h0M394.9 54.2h0M386.0 54.2h0M366.1 77.0h0M376.5 64.7h0M371.2 59.0h0M374.0 69.5h0M351.7 63.8h0M382.4 65.7h0M360.1 63.8h0M448.2 115.7h0M450.9 115.0h0M456.9 109.4h0M449.6 120.6h0M456.2 117.8h0M456.6 126.2h0M452.7 113.6h0M453.8 124.1h0M456.7 124.8h0M451.6 105.2h0M451.7 121.3h0M479.7 154.7h0M481.1 157.7h0M480.3 168.7h0M480.8 152.7h0M480.0 169.7h0M425.0 211.6h0M410.3 256.4h0" stroke="#a21eaa"/><path d="M324.9 74.2h0M324.6 61.9h0M316.6 61.9h0M325.6 62.8h0M330.3 62.8h0M432.4 116.4h0M432.7 115.7h0M436.1 110.1h0M430.3 122.7h0M436.0 115.7h0M437.6 118.5h0M484.7 153.7h0M485.6 155.7h0M485.3 173.7h0M484.6 176.7h0M399.7 208.6h0M401.1 211.6h0M402.4 210.6h0M424.9 258.4h0M426.1 254.4h0M427.3 251.4h0" stroke="#c2009c"/><path d="M473.8 77.0h0M470.5 63.8h0M488.8 69.5h0M477.2 69.5h0M471.8 74.2h0M494.5 122.7h0M495.8 111.5h0M467.9 160.7h0M467.6 178.7h0M469.1 155.7h0M467.0 158.7h0M467.7 153.7h0M467.8 170.7h0M467.7 152.7h0M465.0 211.6h0" stroke="#3e67e6"/><path d="M429.2 67.5h0M436.0 62.8h0M429.8 60.0h0M446.5 73.2h0M444.2 61.9h0M422.5 65.7h0M425.8 70.4h0M442.7 68.5h0M422.8 71.3h0M487.3 110.8h0M479.2 115.7h0M480.3 119.9h0M484.9 125.5h0M482.4 123.4h0M486.5 120.6h0M473.7 122.7h0M475.4 107.3h0M474.2 127.6h0M489.1 122.0h0M480.0 123.4h0M473.5 162.7h0M473.2 153.7h0M472.9 152.7h0M471.6 169.7h0M471.5 154.7h0M473.4 156.7h0M473.3 164.7h0M473.0 157.7h0M473.6 169.7h0M472.7 172.7h0M472.5 169.7h0M443.5 211.6h0M445.0 201.6h0M444.9 218.6h0M447.2 208.6h0M395.4 254.4h0" stroke="#764ed0"/><path d="M496.4 65.7h0M491.7 64.7h0M476.7 66.6h0M496.5 115.7h0M495.6 112.9h0M465.6 151.7h0M466.0 164.7h0M465.9 175.7h0M465.0 152.7h0" stroke="#0e6eec"/><path d="M198.8 69.5h0M217.5 68.5h0M155.7 68.5h0M171.0 69.5h0M316.1 115.7h0M329.0 115.7h0M238.5 115.7h0M248.2 115.7h0M359.1 115.0h0M515.9 163.7h0M511.7 163.7h0M509.5 162.7h0M525.9 162.7h0M504.4 159.7h0M522.3 162.7h0M518.6 162.7h0M505.5 163.7h0M510.4 163.7h0M510.9 160.7h0M508.6 161.7h0M512.6 161.7h0M515.0 163.7h0M343.1 214.6h0M351.5 211.6h0M333.2 210.6h0M340.0 215.6h0M331.7 208.6h0M337.5 214.6h0M337.8 213.6h0M345.5 211.6h0M345.0 207.6h0M338.3 215.6h0M333.5 207.6h0M341.9 210.6h0M347.5 210.6h0M336.5 207.6h0M350.2 207.6h0M466.8 253.4h0M472.4 256.4h0M458.7 262.4h0M463.7 256.4h0M461.3 252.4h0M458.7 247.4h0M464.6 256.4h0M465.6 254.4h0M463.1 254.4h0M459.7 255.4h0M460.0 264.4h0M459.7 250.4h0M463.9 255.4h0M457.6 264.4h0M461.2 256.4h0M457.3 266.4h0M458.9 255.4h0M465.5 255.4h0M457.8 267.4h0M459.8 262.4h0M466.6 255.4h0M464.5 253.4h0M465.9 256.4h0M473.6 257.4h0M475.4 256.4h0M459.0 246.4h0M468.2 258.4h0M459.5 263.4h0M456.9 253.4h0" stroke="#ff0051"/><path d="M454.8 69.5h0M455.9 61.9h0M465.9 65.7h0M460.9 65.7h0M454.2 70.4h0M468.1 71.3h0M444.4 69.5h0M459.5 66.6h0M457.0 60.0h0M427.4 75.2h0M456.1 60.9h0M489.2 128.3h0M482.0 124.1h0M483.4 107.3h0M490.0 120.6h0M486.4 115.7h0M490.4 114.3h0M480.9 115.0h0M482.8 121.3h0M471.2 164.7h0M470.7 155.7h0M471.3 171.7h0M451.2 205.6h0M391.4 260.4h0" stroke="#6857d8"/><path d="M505.0 63.8h0M504.0 69.5h0M503.0 66.6h0M489.3 65.7h0M498.7 66.6h0M465.0 163.7h0M464.4 157.7h0M464.1 175.7h0M463.6 167.7h0M469.6 211.6h0M470.2 206.6h0M469.2 202.6h0" stroke="#0078f3"/><path d="M280.1 62.8h0M290.5 60.9h0M277.4 74.2h0M285.4 65.7h0M279.4 68.5h0M283.2 60.0h0M420.9 119.9h0M415.4 113.6h0M418.1 115.0h0M491.7 158.7h0M490.5 154.7h0M490.2 161.7h0M375.4 205.6h0M375.9 205.6h0M376.4 207.6h0M438.8 259.4h0" stroke="#e40082"/><path d="M438.0 72.3h0M427.9 66.6h0M425.0 61.9h0M453.5 64.7h0M425.6 65.7h0M445.8 68.5h0M444.9 63.8h0M431.6 71.3h0M432.9 76.1h0M434.8 69.5h0M448.2 77.0h0M433.6 73.2h0M436.4 63.8h0M420.6 75.2h0M443.6 74.2h0M439.1 79.0h0M475.6 114.3h0M478.2 119.2h0M484.2 113.6h0M478.6 117.1h0M474.4 119.2h0M475.5 106.6h0M473.5 124.8h0M477.8 126.2h0M477.6 105.9h0M469.5 122.7h0M472.9 105.2h0M478.4 110.8h0M476.8 124.1h0M474.5 153.7h0M473.8 159.7h0M442.3 212.6h0M447.0 204.6h0M440.4 214.6h0M440.7 206.6h0M442.1 208.6h0M437.9 205.6h0M439.0 210.6h0M396.6 258.4h0M395.3 258.4h0M396.1 260.4h0M397.0 256.4h0M397.2 259.4h0" stroke="#7d49cb"/><path d="M548.3 73.2h0M564.9 72.3h0M573.7 67.5h0M563.3 71.3h0M578.7 73.2h0M557.9 72.3h0M565.9 63.8h0M589.4 68.5h0M576.3 71.3h0M554.0 65.7h0M591.1 70.4h0M561.7 70.4h0M570.1 69.5h0M573.2 66.6h0M550.8 74.2h0M527.0 115.7h0M529.5 104.5h0M518.5 118.5h0M519.3 123.4h0M508.1 112.2h0M526.7 105.9h0M503.3 121.3h0M530.8 105.9h0M504.5 116.4h0M516.8 104.5h0M510.5 121.3h0M517.5 128.3h0M506.1 108.0h0M514.1 129.0h0M515.2 116.4h0M517.0 113.6h0M524.2 115.0h0M527.2 109.4h0M512.2 118.5h0M520.0 108.7h0M516.7 126.9h0M531.5 112.9h0M532.2 115.7h0M519.5 126.2h0M505.7 117.1h0M511.1 122.0h0M527.9 112.2h0M516.2 112.2h0M523.6 119.9h0M524.8 113.6h0M511.9 117.8h0M517.3 127.6h0M506.8 126.9h0M513.9 128.3h0M519.4 108.0h0M522.9 112.9h0M521.2 116.4h0M525.7 114.3h0M518.8 121.3h0M518.3 103.1h0M525.3 121.3h0M533.9 115.0h0M449.9 162.7h0M431.4 161.7h0M430.8 161.7h0M459.8 165.7h0M440.4 162.7h0M460.9 163.7h0M460.4 161.7h0M445.4 162.7h0M398.5 162.7h0M453.4 161.7h0M432.6 161.7h0M455.0 163.7h0M436.2 161.7h0M454.1 162.7h0M447.8 161.7h0M461.5 156.7h0M456.1 163.7h0M500.7 211.6h0M512.6 207.6h0M510.1 206.6h0M487.3 208.6h0M510.8 210.6h0M519.1 210.6h0M515.9 207.6h0M496.8 208.6h0M513.3 209.6h0M514.2 212.6h0M362.9 256.4h0M350.8 256.4h0M321.1 255.4h0M339.4 256.4h0M344.9 256.4h0M353.2 257.4h0" stroke="#008bfb"/><path d="M247.1 71.3h0M276.8 64.7h0M267.8 63.8h0M253.7 72.3h0M252.6 74.2h0M258.7 68.5h0M405.3 119.2h0M410.5 117.8h0M495.5 164.7h0M494.0 165.7h0M493.9 158.7h0M494.5 163.7h0M366.1 209.6h0M368.2 204.6h0M368.3 212.6h0M367.7 209.6h0M366.4 214.6h0M448.7 251.4h0M448.6 261.4h0M446.9 252.4h0M445.5 253.4h0M445.6 251.4h0M446.5 256.4h0" stroke="#f20071"/><path d="M218.7 71.3h0M214.2 71.3h0M236.4 65.7h0M237.3 63.8h0M240.7 69.5h0M255.2 73.2h0M226.5 68.5h0M208.8 68.5h0M257.9 67.5h0M234.4 69.5h0M397.2 112.9h0M376.3 115.7h0M497.0 161.7h0M497.2 165.7h0M362.4 213.6h0M360.4 208.6h0M363.2 205.6h0M360.1 211.6h0M450.8 248.4h0M450.6 254.4h0M450.6 251.4h0M452.1 265.4h0M451.9 256.4h0M450.9 261.4h0" stroke="#fb0064"/><path d="M272.5 61.9h0M248.3 72.3h0M249.6 69.5h0M397.6 115.7h0M402.1 112.9h0M396.5 115.7h0M397.9 117.1h0M494.1 164.7h0M493.2 165.7h0M493.6 162.7h0M371.5 209.6h0M365.2 214.6h0M370.8 205.6h0M369.6 209.6h0M447.0 258.4h0M446.3 250.4h0" stroke="#f20071"/><path d="M468.8 70.4h0M486.9 104.5h0M486.6 123.4h0M487.6 114.3h0M493.0 110.8h0M489.8 117.1h0M493.4 109.4h0M469.5 149.7h0M468.6 158.7h0M468.0 147.7h0M469.4 150.7h0M469.5 155.7h0M468.9 165.7h0M468.3 162.7h0M456.7 215.6h0M461.1 209.6h0M456.5 207.6h0M455.7 211.6h0M387.1 256.4h0M387.4 257.4h0M388.0 259.4h0" stroke="#565fe0"/><path d="M293.9 80.8h0M297.8 72.3h0M309.4 75.2h0M322.2 75.2h0M299.3 65.7h0M289.8 79.9h0M295.5 58.0h0M309.0 74.2h0M298.9 69.5h0M426.0 119.2h0M421.2 121.3h0M488.1 155.7h0M488.4 159.7h0M488.0 171.7h0M488.2 164.7h0M488.8 162.7h0M383.2 218.6h0M385.6 217.6h0M381.7 217.6h0M384.3 206.6h0M386.7 210.6h0M386.9 214.6h0M437.1 262.4h0M437.9 249.4h0M434.9 264.4h0M436.0 250.4h0M433.5 253.4h0M436.5 256.4h0M436.1 267.4h0" stroke="#d7008d"/><path d="M278.5 60.9h0M275.4 61.9h0M275.7 69.5h0M270.5 75.2h0M279.0 63.8h0M273.5 67.5h0M416.6 115.7h0M411.5 114.3h0M412.4 118.5h0M373.9 208.6h0M374.4 207.6h0M376.0 212.6h0M441.6 255.4h0" stroke="#e8007e"/><path d="M435.1 68.5h0M409.6 57.1h0M438.6 59.0h0M442.3 64.7h0M426.2 73.2h0M431.7 72.3h0M455.7 73.2h0M423.8 79.0h0M467.7 119.9h0M474.5 111.5h0M473.1 112.9h0M478.6 122.7h0M473.2 117.8h0M466.1 101.0h0M480.8 124.8h0M473.8 126.9h0M471.4 124.1h0M469.0 110.8h0M473.9 171.7h0M474.3 152.7h0M474.7 165.7h0M440.5 209.6h0M441.1 211.6h0M440.2 206.6h0M438.6 204.6h0M439.2 207.6h0M436.7 207.6h0M397.3 254.4h0" stroke="#7d49cb"/><path d="M234.9 72.3h0M203.4 72.3h0M192.1 67.5h0M221.3 69.5h0M230.4 71.3h0M241.4 73.2h0M368.3 115.7h0M355.5 115.7h0M351.5 115.7h0M392.6 114.3h0M366.6 115.0h0M501.1 157.7h0M498.1 164.7h0M359.2 209.6h0M453.8 270.4h0M455.2 259.4h0M453.1 251.4h0M452.7 243.4h0M454.1 262.4h0M455.6 266.4h0M454.7 253.4h0M456.7 265.4h0M454.4 252.4h0" stroke="#ff005a"/><path d="M415.7 62.8h0M409.1 76.1h0M396.7 81.8h0M405.4 58.0h0M403.0 67.5h0M426.3 58.0h0M405.8 56.1h0M408.6 65.7h0M416.2 64.7h0M434.5 58.0h0M398.0 68.5h0M399.9 57.1h0M387.2 67.5h0M398.3 80.8h0M396.1 62.8h0M395.0 75.2h0M414.0 68.5h0M400.5 62.8h0M462.3 103.1h0M464.1 120.6h0M461.4 114.3h0M464.8 111.5h0M471.2 103.8h0M465.5 112.2h0M469.3 127.6h0M466.0 111.5h0M476.7 169.7h0M476.2 155.7h0M475.8 172.7h0M476.6 154.7h0M430.5 199.6h0M431.9 204.6h0M432.9 216.6h0M433.2 218.6h0M432.2 216.6h0M431.7 211.6h0M432.8 210.6h0M431.4 202.6h0M400.7 257.4h0M400.6 257.4h0M401.3 256.4h0" stroke="#8e38bd"/><path d="M476.5 61.9h0M468.4 75.2h0M479.1 65.7h0M495.5 105.9h0M496.1 106.6h0M491.9 117.8h0M467.6 168.7h0M467.4 172.7h0M466.7 174.7h0M467.3 148.7h0M468.1 173.7h0M463.0 208.6h0M462.4 210.6h0M381.5 256.4h0" stroke="#3e67e6"/><path d="M337.2 73.2h0M308.8 66.6h0M322.0 76.1h0M436.6 109.4h0M439.5 122.7h0M437.0 119.9h0M433.6 115.0h0M434.4 121.3h0M438.0 117.8h0M433.9 112.9h0M434.8 117.8h0M439.0 119.2h0M485.2 174.7h0M484.1 170.7h0M484.7 161.7h0M484.4 166.7h0M485.2 168.7h0M484.8 172.7h0M485.3 171.7h0M485.3 166.7h0M402.5 207.6h0M425.9 257.4h0M425.0 256.4h0M426.9 259.4h0M426.0 261.4h0" stroke="#c2009c"/><path d="M255.6 71.3h0M235.7 70.4h0M248.7 62.8h0M242.4 74.2h0M254.5 63.8h0M259.9 66.6h0M231.6 66.6h0M252.1 64.7h0M261.6 72.3h0M252.8 65.7h0M400.9 114.3h0M398.8 118.5h0M406.5 115.7h0M403.5 117.8h0M495.1 161.7h0M365.6 204.6h0M366.6 207.6h0M368.7 211.6h0M369.2 214.6h0M368.5 207.6h0M446.8 259.4h0M447.3 251.4h0" stroke="#f5006c"/><path d="M446.3 60.9h0M436.7 73.2h0M456.4 68.5h0M434.7 79.0h0M436.5 60.9h0M433.1 60.0h0M479.6 128.3h0M481.2 105.9h0M478.4 126.9h0M485.4 103.8h0M480.6 113.6h0M471.8 100.3h0M482.6 124.8h0M484.7 122.7h0M486.1 117.8h0M474.8 126.2h0M445.9 214.6h0M448.7 213.6h0M451.0 207.6h0M447.2 215.6h0M445.2 209.6h0M450.1 210.6h0M447.4 213.6h0M452.3 211.6h0M393.3 253.4h0M394.0 257.4h0" stroke="#6f52d4"/><path d="M280.8 61.9h0M281.3 74.2h0M284.5 75.2h0M287.6 79.0h0M281.0 73.2h0M291.7 67.5h0M292.7 58.0h0M414.4 114.3h0M490.3 170.7h0M377.2 208.6h0M376.8 213.6h0M377.9 213.6h0M378.2 202.6h0M378.6 208.6h0M379.0 211.6h0M439.3 256.4h0" stroke="#e40082"/><path d="M443.8 60.9h0M460.5 61.9h0M464.1 74.2h0M465.1 68.5h0M452.4 67.5h0M452.0 74.2h0M469.1 69.5h0M466.8 72.3h0M457.6 62.8h0M488.2 119.9h0M477.0 105.2h0M480.4 103.8h0M490.3 124.1h0M490.7 107.3h0M491.3 104.5h0M492.1 119.2h0M488.1 116.4h0M470.7 156.7h0M469.9 158.7h0M470.3 151.7h0M470.2 157.7h0M470.5 158.7h0M469.7 178.7h0M470.1 162.7h0M471.1 168.7h0M457.9 203.6h0M455.3 212.6h0M452.6 210.6h0M459.6 216.6h0M453.8 206.6h0M452.2 210.6h0M458.9 211.6h0M385.9 254.4h0M387.0 253.4h0M387.8 258.4h0" stroke="#5f5bdc"/><path d="M450.5 68.5h0M428.2 77.0h0M410.6 66.6h0M430.1 74.2h0M419.1 78.0h0M450.2 76.1h0M399.0 76.1h0M438.4 76.1h0M420.9 74.2h0M435.7 74.2h0M475.1 110.1h0M467.5 108.0h0M471.0 122.0h0M472.1 121.3h0M469.5 123.4h0M468.5 112.9h0M470.0 116.4h0M474.6 105.9h0M474.6 157.7h0M475.1 161.7h0M474.7 160.7h0M474.4 154.7h0M474.9 156.7h0M476.0 160.7h0M437.2 215.6h0M399.6 255.4h0M399.4 256.4h0M397.5 254.4h0M398.2 257.4h0M398.4 258.4h0" stroke="#8344c7"/><path d="M493.5 118.5h0M490.5 124.8h0M494.9 116.4h0M467.9 171.7h0M468.4 156.7h0M468.3 166.7h0M468.6 152.7h0M469.0 154.7h0M468.5 167.7h0M460.7 207.6h0M460.2 213.6h0M384.2 256.4h0M385.0 255.4h0" stroke="#4b63e3"/><path d="M491.1 70.4h0M464.7 153.7h0M465.1 164.7h0M465.6 168.7h0M465.3 151.7h0M465.6 149.7h0M376.0 255.4h0" stroke="#0072ee"/><path d="M309.6 72.3h0M369.5 71.3h0M341.8 65.7h0M359.4 61.9h0M312.8 68.5h0M338.1 76.1h0M342.6 71.3h0M329.3 63.8h0M336.2 70.4h0M328.4 65.7h0M346.1 65.7h0M441.5 114.3h0M433.1 108.7h0M483.6 159.7h0M484.3 173.7h0M485.1 160.7h0M404.7 207.6h0M425.5 262.4h0M423.0 253.4h0M423.4 253.4h0M420.8 255.4h0" stroke="#bc009f"/><path d="M502.2 65.7h0M506.6 72.3h0M493.5 71.3h0M495.2 67.5h0M502.6 68.5h0M497.3 108.7h0M464.6 154.7h0M464.5 148.7h0M464.7 167.7h0M468.6 209.6h0M468.8 208.6h0M468.0 206.6h0M469.9 205.6h0M371.6 255.4h0M373.2 257.4h0" stroke="#0075f1"/><path d="M268.5 68.5h0M264.9 67.5h0M284.3 60.0h0M274.0 67.5h0M273.7 72.3h0M283.1 67.5h0M491.5 157.7h0M492.4 161.7h0M492.1 163.7h0M491.9 161.7h0M373.2 214.6h0M374.5 206.6h0M373.8 209.6h0" stroke="#eb0079"/><path d="M588.5 69.5h0M590.6 67.5h0M586.3 66.6h0M577.5 67.5h0M552.5 67.5h0M583.3 64.7h0M564.1 68.5h0M560.6 71.3h0M579.2 66.6h0M537.2 73.2h0M587.9 70.4h0M583.8 66.6h0M528.5 125.5h0M527.6 126.2h0M522.7 124.8h0M507.0 129.0h0M501.9 120.6h0M514.4 111.5h0M515.8 129.0h0M515.1 109.4h0M511.3 123.4h0M527.8 106.6h0M512.6 112.2h0M530.6 115.7h0M505.4 118.5h0M510.9 120.6h0M500.9 105.2h0M504.2 124.1h0M526.4 111.5h0M504.9 104.5h0M509.4 118.5h0M529.6 127.6h0M501.1 122.7h0M517.0 117.8h0M503.0 106.6h0M514.2 115.7h0M506.9 103.8h0M506.2 125.5h0M507.9 115.0h0M521.3 117.1h0M514.7 108.7h0M519.2 125.5h0M503.8 124.8h0M523.9 127.6h0M509.3 124.8h0M528.8 116.4h0M523.2 122.0h0M509.9 103.1h0M525.5 124.1h0M518.2 119.2h0M526.3 110.8h0M532.5 111.5h0M510.1 101.7h0M513.2 113.6h0M521.8 121.3h0M529.0 110.1h0M512.7 124.8h0M515.6 115.0h0M518.9 116.4h0M519.9 125.5h0M529.8 121.3h0M523.4 128.3h0M513.5 119.9h0M507.4 101.7h0M520.4 122.7h0M523.3 118.5h0M511.1 106.6h0M514.6 120.6h0M518.4 102.4h0M530.3 117.8h0M506.2 103.1h0M521.6 118.5h0M512.8 112.9h0M521.9 119.9h0M461.0 168.7h0M446.9 161.7h0M438.1 162.7h0M461.2 157.7h0M458.8 164.7h0M443.9 161.7h0M457.3 162.7h0M435.9 163.7h0M456.2 161.7h0M449.2 161.7h0M459.6 164.7h0M445.7 163.7h0M460.6 159.7h0M443.5 163.7h0M457.8 160.7h0M406.8 162.7h0M455.6 162.7h0M431.7 163.7h0M435.1 161.7h0M496.3 209.6h0M501.7 209.6h0M513.9 209.6h0M489.4 210.6h0M503.0 210.6h0M502.2 209.6h0M497.0 210.6h0M491.0 208.6h0M487.7 209.6h0M513.5 210.6h0M509.3 208.6h0M506.5 210.6h0M490.8 209.6h0M517.4 208.6h0M512.9 211.6h0M511.6 211.6h0M504.1 210.6h0M520.0 209.6h0M483.9 209.6h0M526.0 209.6h0M515.1 207.6h0M507.3 211.6h0M495.3 209.6h0M521.8 209.6h0M349.5 256.4h0M331.3 256.4h0M334.5 256.4h0M347.6 256.4h0M343.0 256.4h0M345.9 256.4h0M354.0 256.4h0M326.6 256.4h0M322.5 257.4h0M318.5 255.4h0" stroke="#008bfb"/><path d="M457.3 65.7h0M460.1 74.2h0M453.1 71.3h0M447.8 60.0h0M458.2 66.6h0M445.3 72.3h0M480.4 110.1h0M481.9 119.9h0M487.8 128.3h0M483.5 103.8h0M489.0 118.5h0M471.2 151.7h0M472.2 171.7h0M471.4 163.7h0M453.7 204.6h0M458.0 210.6h0M392.6 260.4h0M392.5 257.4h0M390.4 259.4h0" stroke="#6857d8"/><path d="M186.0 70.4h0M177.3 67.5h0M200.2 68.5h0M296.4 115.7h0M344.0 115.7h0M504.3 162.7h0M505.9 164.7h0M506.1 160.7h0M519.2 162.7h0M513.4 163.7h0M516.9 163.7h0M517.5 162.7h0M520.2 163.7h0M503.5 161.7h0M504.0 161.7h0M516.4 161.7h0M504.1 165.7h0M520.7 162.7h0M513.1 162.7h0M339.1 214.6h0M335.2 210.6h0M350.8 209.6h0M340.2 206.6h0M347.4 207.6h0M335.9 213.6h0M349.0 212.6h0M338.9 213.6h0M344.0 213.6h0M345.3 209.6h0M341.2 210.6h0M334.0 212.6h0M340.9 214.6h0M343.5 211.6h0M342.5 206.6h0M332.8 209.6h0M336.6 205.6h0M337.7 204.6h0M330.9 211.6h0M339.8 207.6h0M334.8 205.6h0M342.8 212.6h0M349.3 211.6h0M334.5 208.6h0M337.0 209.6h0M348.2 208.6h0M344.1 212.6h0M341.1 208.6h0M459.2 256.4h0M458.8 260.4h0M458.5 265.4h0M458.2 259.4h0M458.1 263.4h0M460.1 257.4h0M461.8 253.4h0M460.5 254.4h0M464.9 254.4h0M470.9 256.4h0M468.4 255.4h0M463.3 253.4h0M462.6 261.4h0M462.8 257.4h0M474.1 256.4h0M458.3 245.4h0M460.8 261.4h0M460.2 260.4h0" stroke="#ff0051"/><path d="M536.2 64.7h0M525.0 61.9h0M553.6 70.4h0M533.4 65.7h0M520.4 74.2h0M535.2 69.5h0M534.0 72.3h0M549.9 63.8h0M509.0 126.9h0M499.3 121.3h0M519.7 122.0h0M505.1 128.3h0M503.5 126.9h0M516.2 124.1h0M514.9 105.9h0M522.5 126.9h0M510.0 131.1h0M502.8 112.9h0M462.1 157.7h0M462.3 155.7h0M484.5 210.6h0M479.9 212.6h0M482.3 210.6h0" stroke="#0085f9"/><path d="M419.6 75.2h0M440.4 70.4h0M441.5 65.7h0M432.3 78.0h0M424.8 68.5h0M450.7 66.6h0M481.1 115.7h0M477.3 114.3h0M477.5 109.4h0M483.1 122.0h0M484.5 117.8h0M479.1 120.6h0M475.4 119.9h0M477.2 115.0h0M476.4 115.7h0M473.5 170.7h0M472.8 170.7h0M472.9 155.7h0M446.1 205.6h0M444.6 211.6h0M444.8 206.6h0M441.9 207.6h0M443.0 208.6h0M444.3 209.6h0M395.1 256.4h0M394.4 253.4h0" stroke="#764ed0"/><path d="M374.6 80.8h0M373.4 70.4h0M383.3 72.3h0M382.5 58.0h0M397.8 58.0h0M373.7 65.7h0M357.8 74.2h0M446.5 115.0h0M451.2 122.0h0M462.1 125.5h0M453.0 115.7h0M480.6 155.7h0M479.2 155.7h0M480.8 172.7h0M425.5 209.6h0M424.5 210.6h0" stroke="#a21eaa"/><path d="M360.6 116.4h0M364.0 115.7h0M507.9 164.7h0M507.6 165.7h0M337.1 212.6h0M351.0 212.6h0M351.2 206.6h0M344.8 208.6h0M353.0 211.6h0M353.5 212.6h0M456.5 246.4h0M455.9 260.4h0M455.1 242.4h0M456.9 244.4h0M461.6 254.4h0M455.5 249.4h0M457.3 267.4h0M455.3 269.4h0M455.1 268.4h0M456.8 250.4h0" stroke="#ff0056"/><path d="M258.4 66.6h0M254.0 70.4h0M236.8 62.8h0M218.1 67.5h0M251.6 69.5h0M197.4 69.5h0M196.3 67.5h0M393.4 117.8h0M370.5 115.7h0M393.7 113.6h0M381.1 116.4h0M496.1 167.7h0M361.9 212.6h0M363.5 214.6h0M361.7 206.6h0M452.2 260.4h0M450.4 245.4h0M450.0 267.4h0M449.9 247.4h0M451.2 250.4h0M450.2 249.4h0M452.6 242.4h0M453.6 241.4h0M450.1 260.4h0M451.9 253.4h0" stroke="#fb0064"/><path d="M209.3 67.5h0M215.6 70.4h0M166.4 67.5h0M207.4 67.5h0M189.0 68.5h0M193.2 69.5h0M224.1 65.7h0M243.0 63.8h0M378.0 115.0h0M372.0 116.4h0M388.9 116.4h0M498.4 168.7h0M499.0 157.7h0M359.8 210.6h0M360.9 209.6h0M452.1 243.4h0M453.8 255.4h0M451.5 270.4h0M452.5 246.4h0M451.3 264.4h0M451.8 247.4h0M451.7 245.4h0M452.3 255.4h0M452.3 263.4h0" stroke="#fd005f"/><path d="M287.9 66.6h0M286.3 68.5h0M425.5 115.0h0M422.6 115.0h0M489.4 160.7h0M488.9 172.7h0M488.8 153.7h0M380.9 203.6h0M380.6 206.6h0M382.1 203.6h0M381.2 216.6h0M381.1 199.6h0M382.0 212.6h0M383.0 214.6h0M436.8 248.4h0M437.1 265.4h0" stroke="#db008a"/><path d="M373.2 58.0h0M356.0 59.0h0M354.7 68.5h0M372.9 60.9h0M364.1 68.5h0M385.1 62.8h0M368.4 79.9h0M383.5 64.7h0M370.3 75.2h0M383.8 63.8h0M366.8 63.8h0M385.4 68.5h0M363.4 60.9h0M360.4 71.3h0M451.8 122.7h0M449.7 122.0h0M450.8 106.6h0M453.6 116.4h0M449.1 111.5h0M449.3 124.8h0M444.0 122.7h0M449.2 122.7h0M454.0 119.9h0M455.9 124.1h0M482.5 153.7h0M481.6 154.7h0M481.9 161.7h0M481.0 170.7h0M481.2 160.7h0M480.9 162.7h0M416.7 209.6h0M421.4 210.6h0M412.3 256.4h0" stroke="#a918a8"/><path d="M305.2 60.9h0M329.6 72.3h0M316.3 62.8h0M327.1 74.2h0M313.8 66.6h0M307.1 65.7h0M309.3 73.2h0M322.5 68.5h0M308.4 61.9h0M301.6 75.2h0M429.6 117.1h0M426.8 110.8h0M429.3 112.2h0M485.7 151.7h0M487.0 149.7h0M390.8 215.6h0M389.7 212.6h0M389.1 217.6h0M394.7 210.6h0M431.9 255.4h0M432.4 262.4h0M429.3 260.4h0M432.8 257.4h0" stroke="#cd0095"/><path d="M501.8 72.3h0M504.6 67.5h0M500.4 71.3h0M499.2 74.2h0M503.3 70.4h0M504.1 71.3h0M464.3 146.7h0M464.3 161.7h0M463.7 160.7h0M464.4 170.7h0M464.2 178.7h0M463.9 177.7h0M468.7 214.6h0M471.0 212.6h0M470.4 207.6h0M372.2 257.4h0" stroke="#0078f3"/><path d="M472.1 65.7h0M478.3 71.3h0M476.3 60.9h0M466.9 173.7h0M465.7 165.7h0M465.1 150.7h0M465.8 170.7h0M466.4 210.6h0" stroke="#0e6eec"/><path d="M275.2 72.3h0M267.1 69.5h0M274.8 62.8h0M265.4 71.3h0M282.5 71.3h0M400.5 117.8h0M492.6 166.7h0M493.9 160.7h0M370.6 214.6h0M368.9 210.6h0M370.1 213.6h0M373.4 210.6h0M375.0 215.6h0M372.0 213.6h0M444.5 257.4h0M445.3 261.4h0M446.0 254.4h0" stroke="#ef0075"/><path d="M246.6 68.5h0M244.3 64.7h0M241.8 67.5h0M247.9 73.2h0M250.4 66.6h0M233.1 67.5h0M210.8 66.6h0M395.2 117.1h0M389.6 117.1h0M390.0 115.0h0M386.1 115.7h0M495.8 163.7h0M494.8 159.7h0M361.3 207.6h0M364.1 210.6h0M365.4 213.6h0M448.8 247.4h0M449.8 264.4h0M449.8 265.4h0M448.0 253.4h0M448.1 254.4h0M449.5 255.4h0M448.4 265.4h0M449.4 252.4h0M449.7 266.4h0M448.9 250.4h0" stroke="#f80068"/><path d="M298.6 61.9h0M314.2 74.2h0M307.3 78.0h0M302.2 64.7h0M428.1 111.5h0M487.1 169.7h0M487.4 161.7h0M392.0 206.6h0M385.8 213.6h0M382.3 209.6h0M436.2 258.4h0M433.8 259.4h0M434.0 265.4h0M435.4 246.4h0" stroke="#d20091"/><path d="M426.6 79.9h0M393.3 67.5h0M397.8 65.7h0M403.7 61.9h0M392.4 63.8h0M389.5 62.8h0M407.2 73.2h0M392.9 68.5h0M388.0 74.2h0M406.0 78.0h0M422.6 73.2h0M397.2 74.2h0M384.1 81.8h0M399.7 64.7h0M400.2 72.3h0M399.1 79.0h0M468.8 105.9h0M469.2 119.2h0M466.3 107.3h0M461.1 118.5h0M458.5 117.1h0M459.9 120.6h0M464.2 126.2h0M477.1 163.7h0M477.0 162.7h0M428.3 217.6h0M430.8 200.6h0M430.4 213.6h0M432.3 203.6h0M403.3 259.4h0M401.7 254.4h0M403.0 256.4h0M403.5 261.4h0" stroke="#9232b8"/><path d="M339.7 63.8h0M344.7 68.5h0M343.7 62.8h0M350.7 68.5h0M371.9 62.8h0M349.2 76.1h0M326.4 61.9h0M438.9 120.6h0M447.3 112.2h0M442.2 108.0h0M450.3 113.6h0M442.3 120.6h0M481.5 165.7h0M409.8 209.6h0M415.5 210.6h0M418.8 209.6h0M417.8 208.6h0M416.7 256.4h0" stroke="#af11a5"/><path d="M378.4 57.1h0M394.0 61.9h0M395.6 60.9h0M374.8 62.8h0M387.8 63.8h0M383.6 61.9h0M377.4 79.9h0M404.4 60.0h0M453.7 112.2h0M456.4 122.0h0M454.3 108.7h0M450.4 108.0h0M455.3 121.3h0M460.8 112.2h0M451.4 124.8h0M448.0 123.4h0M454.2 117.1h0M454.5 115.0h0M480.0 156.7h0M478.3 170.7h0M479.3 156.7h0M478.9 159.7h0M479.4 161.7h0M428.2 197.6h0M405.6 257.4h0" stroke="#9b23ad"/><path d="M292.9 54.2h0M290.9 78.0h0M298.0 74.2h0M287.2 77.0h0M294.7 62.8h0M295.7 70.4h0M296.6 83.7h0M420.1 114.3h0M419.3 118.5h0M490.2 160.7h0M489.9 163.7h0M489.6 166.7h0M379.2 209.6h0M379.4 220.6h0M382.2 213.6h0M381.5 220.6h0M436.6 261.4h0M438.7 261.4h0M437.2 259.4h0M440.3 257.4h0M438.3 260.4h0M439.0 263.4h0" stroke="#e00086"/><path d="M560.9 67.5h0M578.5 69.5h0M564.6 66.6h0M540.4 70.4h0M574.2 70.4h0M566.7 73.2h0M550.2 66.6h0M569.0 62.8h0M544.0 66.6h0M541.1 71.3h0M577.8 71.3h0M551.4 69.5h0M546.5 68.5h0M584.8 65.7h0M508.9 114.3h0M504.5 109.4h0M523.0 105.2h0M508.4 107.3h0M523.7 117.8h0M516.9 107.3h0M523.2 112.2h0M500.8 126.2h0M529.3 108.7h0M505.0 105.2h0M525.9 109.4h0M504.0 112.2h0M511.2 108.7h0M517.8 109.4h0M525.8 110.1h0M505.8 126.2h0M525.1 112.9h0M501.4 117.8h0M436.8 163.7h0M457.0 161.7h0M452.8 162.7h0M446.0 161.7h0M449.6 163.7h0M429.6 163.7h0M461.8 170.7h0M438.8 162.7h0M448.2 163.7h0M447.2 163.7h0M500.0 208.6h0M511.8 208.6h0M488.2 209.6h0M510.7 207.6h0M517.1 210.6h0M513.1 213.6h0M491.8 210.6h0M485.2 208.6h0M351.5 257.4h0" stroke="#0088fa"/><path d="M482.7 72.3h0M466.4 172.7h0M466.8 167.7h0M466.2 155.7h0M465.8 157.7h0M466.8 156.7h0M467.2 177.7h0" stroke="#2d6be9"/><path d="M316.1 67.5h0M314.4 61.9h0M321.2 71.3h0M323.5 70.4h0M322.9 69.5h0M348.4 69.5h0M331.1 65.7h0M439.3 111.5h0M426.7 111.5h0M425.3 114.3h0M432.2 123.4h0M433.6 117.1h0M486.6 164.7h0M486.2 168.7h0M485.9 161.7h0M486.8 174.7h0M485.7 157.7h0M486.5 151.7h0M484.6 156.7h0M397.3 212.6h0M398.7 211.6h0M396.0 205.6h0M400.1 207.6h0M398.0 209.6h0M427.0 261.4h0M428.9 262.4h0M426.7 258.4h0M425.2 259.4h0M426.3 260.4h0M427.4 256.4h0M427.6 260.4h0M429.2 259.4h0M428.6 250.4h0" stroke="#c70098"/><path d="M427.0 64.7h0M410.0 60.9h0M417.4 77.0h0M423.0 78.0h0M406.5 79.9h0M392.1 59.0h0M391.1 75.2h0M403.2 75.2h0M421.2 63.8h0M421.4 60.9h0M408.2 60.0h0M394.2 74.2h0M405.4 70.4h0M467.2 130.4h0M464.4 123.4h0M471.1 101.7h0M467.3 128.3h0M466.7 118.5h0M467.0 115.0h0M475.7 159.7h0M476.1 153.7h0M434.5 201.6h0M434.9 210.6h0M434.1 215.6h0M435.6 212.6h0M436.8 216.6h0M433.9 208.6h0M434.3 196.6h0M402.4 252.4h0M398.5 259.4h0" stroke="#883ec2"/><path d="M511.0 65.7h0M513.2 64.7h0M499.9 111.5h0M498.4 119.2h0M498.9 126.9h0M463.8 151.7h0M464.3 165.7h0M462.9 161.7h0M463.3 152.7h0M464.0 158.7h0M472.1 208.6h0M471.7 206.6h0M470.9 215.6h0M470.8 214.6h0M371.3 255.4h0" stroke="#007cf5"/><path d="M368.2 73.2h0M325.3 67.5h0M377.1 56.1h0M336.6 69.5h0M347.3 68.5h0M359.3 72.3h0M332.3 72.3h0M339.3 61.9h0M359.8 78.0h0M340.4 60.9h0M362.3 62.8h0M328.8 64.7h0M441.3 108.7h0M441.1 112.9h0M444.4 115.7h0M446.8 114.3h0M439.6 113.6h0M431.5 122.0h0M452.1 110.8h0M438.5 115.0h0M483.2 169.7h0M406.9 209.6h0M405.4 210.6h0M420.2 257.4h0M417.4 256.4h0" stroke="#b606a2"/><path d="M393.7 78.0h0M376.7 74.2h0M396.8 76.1h0M389.1 79.9h0M386.3 71.3h0M395.3 65.7h0M377.6 58.0h0M409.8 71.3h0M463.5 107.3h0M457.9 117.1h0M462.6 105.9h0M459.7 122.7h0M463.2 105.2h0M478.6 158.7h0M428.7 210.6h0M427.1 203.6h0M428.2 208.6h0M427.3 214.6h0M427.9 221.6h0M429.8 196.6h0M429.4 194.6h0" stroke="#972bb2"/><path d="M537.6 68.5h0M522.1 63.8h0M512.4 72.3h0M515.1 70.4h0M534.5 66.6h0M527.9 73.2h0M572.8 65.7h0M512.9 63.8h0M500.0 112.9h0M505.0 113.6h0M501.7 123.4h0M520.5 119.2h0M462.7 172.7h0M477.3 210.6h0M480.7 211.6h0M364.7 256.4h0" stroke="#0082f8"/><path d="M508.8 64.7h0M533.2 63.8h0M506.1 66.6h0M507.3 69.5h0M516.9 69.5h0M462.4 168.7h0M463.6 176.7h0M463.1 150.7h0M475.0 207.6h0M475.7 206.6h0M471.7 213.6h0M476.8 211.6h0" stroke="#007ff6"/></g></g>
<line x1="430.4" y1="22" x2="430.4" y2="302.6" stroke="#777" stroke-width="0.85" stroke-opacity="0.35"/>
<line x1="101" y1="302.6" x2="621" y2="302.6" stroke="#333" stroke-width="0.8"/>
<line x1="136.40" y1="302.6" x2="136.40" y2="306" stroke="#333" stroke-width="0.7"/><text x="136.40" y="315.3" text-anchor="middle" font-size="8.3" fill="#222">−0.00125</text><line x1="195.20" y1="302.6" x2="195.20" y2="306" stroke="#333" stroke-width="0.7"/><text x="195.20" y="315.3" text-anchor="middle" font-size="8.3" fill="#222">−0.00100</text><line x1="254.00" y1="302.6" x2="254.00" y2="306" stroke="#333" stroke-width="0.7"/><text x="254.00" y="315.3" text-anchor="middle" font-size="8.3" fill="#222">−0.00075</text><line x1="312.80" y1="302.6" x2="312.80" y2="306" stroke="#333" stroke-width="0.7"/><text x="312.80" y="315.3" text-anchor="middle" font-size="8.3" fill="#222">−0.00050</text><line x1="371.60" y1="302.6" x2="371.60" y2="306" stroke="#333" stroke-width="0.7"/><text x="371.60" y="315.3" text-anchor="middle" font-size="8.3" fill="#222">−0.00025</text><line x1="430.40" y1="302.6" x2="430.40" y2="306" stroke="#333" stroke-width="0.7"/><text x="430.40" y="315.3" text-anchor="middle" font-size="8.3" fill="#222">0.00000</text><line x1="489.20" y1="302.6" x2="489.20" y2="306" stroke="#333" stroke-width="0.7"/><text x="489.20" y="315.3" text-anchor="middle" font-size="8.3" fill="#222">0.00025</text><line x1="548.00" y1="302.6" x2="548.00" y2="306" stroke="#333" stroke-width="0.7"/><text x="548.00" y="315.3" text-anchor="middle" font-size="8.3" fill="#222">0.00050</text><line x1="606.80" y1="302.6" x2="606.80" y2="306" stroke="#333" stroke-width="0.7"/><text x="606.80" y="315.3" text-anchor="middle" font-size="8.3" fill="#222">0.00075</text>
<text x="361.5" y="329.2" text-anchor="middle" font-size="10.8" fill="#111">SHAP value (Impact on model output)</text>
<text x="83.3" y="71.9" text-anchor="end" font-size="10" fill="#222">Wind speed</text><text x="83.3" y="119.3" text-anchor="end" font-size="10" fill="#222">Turbulence intensity</text><text x="83.3" y="213.1" text-anchor="end" font-size="10" fill="#222">Air density</text><text x="83.3" y="259.7" text-anchor="end" font-size="10" fill="#222">Wind direction</text><text x="83.3" y="161.7" text-anchor="end" font-size="10" fill="#222">Below-hub</text><text x="83.3" y="173.0" text-anchor="end" font-size="10" fill="#222">height wind shear</text>
<rect x="653.5" y="22" width="3.5" height="281" fill="url(#cb)"/>
<text x="659.6" y="24.6" font-size="8.4" fill="#111">High</text>
<text x="659.6" y="306.4" font-size="8.4" fill="#111">Low</text>
<text transform="translate(684.8,162.4) rotate(-90)" text-anchor="middle" font-size="11.7" fill="#111">Feature value</text>
</svg>
</body></html>
